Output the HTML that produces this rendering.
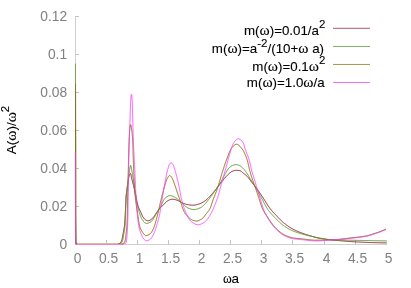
<!DOCTYPE html>
<html><head><meta charset="utf-8"><title>plot</title>
<style>html,body{margin:0;padding:0;background:#fff;overflow:hidden}body{width:411px;height:288px;position:relative;font-family:"Liberation Sans",sans-serif}</style>
</head><body>
<svg width="411" height="288" viewBox="0 0 411 288" style="position:absolute;left:0;top:0;will-change:transform">
<rect width="411" height="288" fill="#fff"/>
<g stroke-width="1" fill="none">
<path stroke="#d0d0d0" d="M75.5 16 V245 M75 244.5 H387"/>
<path stroke="#c4c4c4" d="M75.5 245 v-5"/>
<path stroke="#c4c4c4" d="M106.5 245 v-5"/>
<path stroke="#c4c4c4" d="M137.5 245 v-5"/>
<path stroke="#c4c4c4" d="M168.5 245 v-5"/>
<path stroke="#c4c4c4" d="M199.5 245 v-5"/>
<path stroke="#c4c4c4" d="M230.5 245 v-5"/>
<path stroke="#c4c4c4" d="M261.5 245 v-5"/>
<path stroke="#c4c4c4" d="M292.5 245 v-5"/>
<path stroke="#c4c4c4" d="M324.5 245 v-5"/>
<path stroke="#c4c4c4" d="M355.5 245 v-5"/>
<path stroke="#c4c4c4" d="M386.5 245 v-5"/>
<path stroke="#c4c4c4" d="M75 244.5 h4"/>
<path stroke="#c4c4c4" d="M75 206.5 h4"/>
<path stroke="#c4c4c4" d="M75 168.5 h4"/>
<path stroke="#c4c4c4" d="M75 130.5 h4"/>
<path stroke="#c4c4c4" d="M75 92.5 h4"/>
<path stroke="#c4c4c4" d="M75 54.5 h4"/>
<path stroke="#c4c4c4" d="M75 16.5 h4"/>
</g>
<g fill="#808080" font-family="Liberation Sans, sans-serif" font-size="13.8px">
<text x="77.5" y="262.5" text-anchor="middle">0</text>
<text x="108.5" y="262.5" text-anchor="middle">0.5</text>
<text x="139.5" y="262.5" text-anchor="middle">1</text>
<text x="170.5" y="262.5" text-anchor="middle">1.5</text>
<text x="201.5" y="262.5" text-anchor="middle">2</text>
<text x="232.5" y="262.5" text-anchor="middle">2.5</text>
<text x="263.5" y="262.5" text-anchor="middle">3</text>
<text x="294.5" y="262.5" text-anchor="middle">3.5</text>
<text x="326.5" y="262.5" text-anchor="middle">4</text>
<text x="357.5" y="262.5" text-anchor="middle">4.5</text>
<text x="388.5" y="262.5" text-anchor="middle">5</text>
<text x="67.1" y="249.2" text-anchor="end">0</text>
<text x="67.1" y="211.2" text-anchor="end">0.02</text>
<text x="67.1" y="173.2" text-anchor="end">0.04</text>
<text x="67.1" y="135.2" text-anchor="end">0.06</text>
<text x="67.1" y="97.2" text-anchor="end">0.08</text>
<text x="67.1" y="59.2" text-anchor="end">0.1</text>
<text x="67.1" y="21.2" text-anchor="end">0.12</text>
</g>
<g fill="none" stroke-width="1" stroke-linejoin="round">
<path stroke="#94202e" stroke-opacity="1" d="M75.50 92.00 L75.50 92.67 L75.50 93.33 L75.50 94.00 L75.50 94.66 L75.50 95.33 L75.50 96.00 L75.50 96.66 L75.50 97.33 L75.50 98.00 L75.50 98.66 L75.50 99.33 L75.50 99.99 L75.50 100.66 L75.50 101.33 L75.50 101.99 L75.50 102.66 L75.50 103.33 L75.50 103.99 L75.50 104.66 L75.50 105.32 L75.50 105.99 L75.50 106.66 L75.50 107.32 L75.50 107.99 L75.50 108.66 L75.50 109.32 L75.50 109.99 L75.50 110.65 L75.50 111.32 L75.50 111.99 L75.50 112.65 L75.50 113.32 L75.50 113.98 L75.50 114.65 L75.50 115.32 L75.50 115.98 L75.50 116.65 L75.50 117.32 L75.50 117.98 L75.50 118.65 L75.50 119.31 L75.50 119.98 L75.50 120.65 L75.50 121.31 L75.50 121.98 L75.50 122.65 L75.50 123.31 L75.50 123.98 L75.50 124.64 L75.50 125.31 L75.50 125.98 L75.50 126.64 L75.50 127.31 L75.50 127.98 L75.50 128.64 L75.50 129.31 L75.50 129.97 L75.50 130.64 L75.50 131.31 L75.50 131.97 L75.50 132.64 L75.50 133.30 L75.50 133.97 L75.50 134.64 L75.50 135.30 L75.50 135.97 L75.50 136.64 L75.50 137.30 L75.50 137.97 L75.50 138.63 L75.50 139.30 L75.50 139.97 L75.50 140.63 L75.50 141.30 L75.50 141.97 L75.50 142.63 L75.50 143.30 L75.50 143.96 L75.50 144.63 L75.50 145.30 L75.50 145.96 L75.50 146.63 L75.50 147.29 L75.50 147.96 L75.50 148.63 L75.50 149.29 L75.50 149.96 L75.50 150.63 L75.50 151.29 L75.50 151.96 L75.50 152.62 L75.50 153.29 L75.50 153.96 L75.50 154.62 L75.50 155.29 L75.50 155.96 L75.50 156.62 L75.50 157.29 L75.50 157.95 L75.50 158.62 L75.50 159.29 L75.50 159.95 L75.50 160.62 L75.50 161.28 L75.50 161.95 L75.50 162.62 L75.50 163.28 L75.50 163.95 L75.50 164.62 L75.50 165.28 L75.50 165.95 L75.50 166.61 L75.50 167.28 L75.50 167.95 L75.50 168.61 L75.50 169.28 L75.50 169.95 L75.50 170.61 L75.50 171.28 L75.50 171.94 L75.50 172.61 L75.50 173.28 L75.50 173.94 L75.50 174.61 L75.50 175.27 L75.50 175.94 L75.50 176.61 L75.50 177.27 L75.50 177.94 L75.50 178.61 L75.50 179.27 L75.50 179.94 L75.50 180.60 L75.50 181.27 L75.50 181.94 L75.50 182.60 L75.50 183.27 L75.50 183.94 L75.50 184.60 L75.50 185.27 L75.50 185.93 L75.50 186.60 L75.50 187.27 L75.50 187.93 L75.50 188.60 L75.50 189.26 L75.50 189.93 L75.50 190.60 L75.50 191.26 L75.50 191.93 L75.50 192.60 L75.50 193.26 L75.50 193.93 L75.50 194.59 L75.50 195.26 L75.50 195.93 L75.50 196.59 L75.50 197.26 L75.50 197.92 L75.50 198.59 L75.50 199.26 L75.50 199.92 L75.50 200.00 L75.50 200.59 L75.50 201.26 L75.50 201.94 L75.50 202.61 L75.50 203.29 L75.50 203.98 L75.50 204.66 L75.50 205.35 L75.50 206.04 L75.50 206.73 L75.50 207.42 L75.50 208.12 L75.51 208.81 L75.51 209.51 L75.51 210.21 L75.51 210.91 L75.51 211.61 L75.51 212.32 L75.51 213.02 L75.52 213.72 L75.52 214.43 L75.52 215.13 L75.52 215.83 L75.53 216.54 L75.53 217.24 L75.53 217.94 L75.54 218.64 L75.54 219.34 L75.54 220.04 L75.55 220.74 L75.55 221.44 L75.56 222.14 L75.56 222.83 L75.57 223.52 L75.57 224.21 L75.58 224.90 L75.59 225.59 L75.59 226.27 L75.60 226.95 L75.61 227.63 L75.61 228.30 L75.62 228.97 L75.63 229.64 L75.64 230.31 L75.65 230.97 L75.65 231.63 L75.66 232.28 L75.67 232.93 L75.68 233.57 L75.69 234.21 L75.71 234.85 L75.72 235.48 L75.73 236.11 L75.74 236.73 L75.75 237.35 L75.77 237.96 L75.78 238.56 L75.79 239.16 L75.81 239.76 L75.82 240.34 L75.84 240.93 L75.86 241.50 L75.87 242.07 L75.89 242.63 L75.90 243.00 L75.94 243.20 L76.33 243.86 L76.89 244.28 L77.00 244.30 L77.39 244.30 L77.91 244.30 L78.44 244.30 L79.00 244.30 L79.57 244.30 L80.15 244.30 L80.76 244.30 L81.37 244.30 L82.00 244.30 L82.64 244.30 L83.30 244.30 L83.96 244.30 L84.63 244.30 L85.32 244.30 L86.01 244.30 L86.70 244.30 L87.41 244.30 L88.12 244.30 L88.83 244.30 L89.55 244.30 L90.27 244.30 L90.99 244.30 L91.72 244.30 L92.44 244.30 L93.17 244.30 L93.89 244.30 L94.61 244.30 L95.32 244.30 L96.03 244.30 L96.74 244.30 L97.44 244.30 L98.14 244.30 L98.82 244.30 L99.50 244.30 L100.00 244.30 L100.17 244.30 L100.84 244.30 L101.51 244.30 L102.18 244.30 L102.85 244.30 L103.53 244.30 L104.20 244.30 L104.88 244.30 L105.55 244.30 L106.23 244.30 L106.90 244.30 L107.58 244.30 L108.25 244.30 L108.93 244.30 L109.60 244.30 L110.27 244.30 L110.94 244.30 L111.61 244.30 L112.28 244.30 L112.94 244.30 L113.60 244.30 L114.26 244.30 L114.91 244.30 L115.56 244.30 L116.21 244.30 L116.85 244.30 L117.49 244.30 L117.50 244.30 L118.14 244.18 L118.78 243.90 L119.30 243.60 L119.35 243.57 L119.86 243.19 L120.37 242.71 L120.82 242.16 L121.21 241.59 L121.49 241.01 L121.50 241.00 L121.70 240.43 L121.89 239.83 L122.05 239.19 L122.19 238.54 L122.31 237.87 L122.43 237.20 L122.55 236.52 L122.66 235.84 L122.77 235.16 L122.90 234.50 L122.90 234.50 L123.03 233.85 L123.16 233.20 L123.28 232.54 L123.41 231.89 L123.53 231.23 L123.65 230.58 L123.77 229.92 L123.88 229.27 L124.00 228.61 L124.00 228.60 L124.12 227.95 L124.24 227.30 L124.36 226.64 L124.47 225.98 L124.57 225.32 L124.60 225.00 L124.63 224.66 L124.69 224.00 L124.74 223.34 L124.79 222.68 L124.83 222.01 L124.87 221.35 L124.91 220.68 L124.95 220.02 L124.98 219.35 L125.01 218.68 L125.05 218.02 L125.08 217.35 L125.11 216.68 L125.15 216.02 L125.18 215.35 L125.20 215.00 L125.22 214.69 L125.25 214.02 L125.29 213.36 L125.32 212.69 L125.35 212.03 L125.39 211.36 L125.42 210.69 L125.45 210.03 L125.48 209.36 L125.51 208.69 L125.54 208.03 L125.57 207.36 L125.59 206.70 L125.62 206.03 L125.65 205.36 L125.68 204.70 L125.72 204.03 L125.75 203.37 L125.78 202.70 L125.81 202.04 L125.85 201.37 L125.89 200.71 L125.93 200.04 L125.97 199.38 L126.01 198.71 L126.05 198.05 L126.10 197.39 L126.14 196.72 L126.20 196.06 L126.20 196.00 L126.25 195.40 L126.31 194.74 L126.38 194.07 L126.45 193.41 L126.53 192.75 L126.61 192.09 L126.69 191.43 L126.78 190.77 L126.88 190.11 L126.97 189.45 L127.07 188.79 L127.17 188.13 L127.28 187.47 L127.38 186.81 L127.49 186.15 L127.59 185.49 L127.70 184.83 L127.81 184.18 L127.92 183.52 L128.00 183.00 L128.02 182.86 L128.12 182.20 L128.22 181.53 L128.31 180.85 L128.40 180.17 L128.50 179.49 L128.59 178.81 L128.70 178.14 L128.82 177.47 L128.95 176.82 L129.09 176.18 L129.26 175.56 L129.44 174.95 L129.60 174.50 L129.66 174.36 L130.09 173.67 L130.40 173.40 L130.45 173.41 L130.66 173.65 L130.84 174.17 L131.00 174.90 L131.14 175.73 L131.28 176.58 L131.42 177.37 L131.50 177.70 L131.59 178.04 L131.75 178.68 L131.92 179.33 L132.09 179.97 L132.26 180.62 L132.42 181.26 L132.59 181.91 L132.76 182.55 L132.92 183.20 L133.09 183.84 L133.25 184.49 L133.41 185.14 L133.50 185.50 L133.57 185.78 L133.73 186.43 L133.88 187.08 L134.04 187.73 L134.19 188.37 L134.34 189.02 L134.49 189.67 L134.64 190.32 L134.79 190.97 L134.94 191.62 L135.09 192.27 L135.24 192.92 L135.38 193.57 L135.53 194.22 L135.67 194.87 L135.70 195.00 L135.81 195.52 L135.95 196.17 L136.08 196.83 L136.20 197.49 L136.33 198.14 L136.45 198.80 L136.57 199.46 L136.70 200.12 L136.82 200.78 L136.95 201.43 L137.09 202.08 L137.23 202.73 L137.38 203.38 L137.54 204.02 L137.70 204.66 L137.80 205.00 L137.88 205.29 L138.08 205.92 L138.30 206.55 L138.53 207.17 L138.77 207.79 L139.03 208.41 L139.29 209.03 L139.56 209.64 L139.84 210.25 L140.12 210.86 L140.41 211.47 L140.69 212.07 L140.80 212.30 L140.97 212.67 L141.25 213.30 L141.53 213.94 L141.81 214.59 L142.09 215.24 L142.39 215.88 L142.70 216.50 L143.02 217.09 L143.36 217.65 L143.73 218.16 L144.12 218.62 L144.40 218.90 L144.55 219.03 L145.05 219.44 L145.63 219.85 L146.26 220.23 L146.90 220.53 L147.54 220.73 L148.10 220.80 L148.15 220.80 L148.75 220.71 L149.36 220.50 L149.98 220.19 L150.59 219.81 L151.18 219.39 L151.74 218.95 L152.25 218.52 L152.40 218.40 L152.72 218.11 L153.16 217.66 L153.57 217.16 L153.97 216.63 L154.35 216.08 L154.72 215.51 L155.08 214.93 L155.44 214.34 L155.81 213.75 L156.18 213.18 L156.56 212.62 L156.80 212.30 L156.96 212.09 L157.36 211.55 L157.76 211.01 L158.15 210.47 L158.55 209.93 L158.96 209.40 L159.37 208.87 L159.79 208.35 L160.22 207.85 L160.66 207.36 L161.00 207.00 L161.12 206.88 L161.61 206.44 L162.13 206.01 L162.65 205.59 L163.10 205.20 L163.15 205.15 L163.63 204.68 L164.10 204.18 L164.55 203.66 L165.01 203.14 L165.46 202.63 L165.92 202.14 L166.40 201.68 L166.90 201.28 L167.43 200.94 L167.50 200.90 L167.99 200.64 L168.58 200.34 L169.20 200.04 L169.84 199.77 L170.49 199.54 L171.15 199.35 L171.81 199.24 L172.40 199.20 L172.45 199.20 L173.10 199.24 L173.76 199.33 L174.42 199.46 L175.08 199.62 L175.73 199.81 L176.38 200.01 L177.00 200.20 L177.01 200.20 L177.62 200.43 L178.22 200.71 L178.81 201.03 L179.39 201.37 L179.97 201.71 L180.56 202.04 L181.15 202.35 L181.50 202.50 L181.76 202.61 L182.38 202.87 L183.00 203.13 L183.62 203.38 L184.25 203.63 L184.88 203.87 L185.51 204.08 L186.15 204.27 L186.79 204.44 L187.43 204.57 L187.60 204.60 L188.08 204.68 L188.74 204.78 L189.40 204.88 L190.07 204.97 L190.73 205.05 L191.40 205.12 L192.07 205.17 L192.73 205.19 L193.20 205.20 L193.39 205.20 L194.05 205.16 L194.71 205.08 L195.38 204.97 L196.04 204.83 L196.70 204.67 L197.35 204.49 L197.99 204.30 L198.62 204.11 L199.00 204.00 L199.25 203.92 L199.87 203.70 L200.49 203.46 L201.10 203.18 L201.71 202.88 L202.31 202.55 L202.90 202.22 L203.47 201.87 L204.04 201.51 L204.58 201.15 L204.80 201.00 L205.12 200.78 L205.64 200.39 L206.15 199.98 L206.65 199.56 L207.15 199.11 L207.64 198.66 L208.12 198.19 L208.59 197.71 L209.06 197.22 L209.52 196.73 L209.98 196.23 L210.44 195.73 L210.89 195.23 L211.34 194.73 L211.79 194.23 L212.00 194.00 L212.23 193.74 L212.67 193.25 L213.11 192.74 L213.54 192.24 L213.96 191.72 L214.38 191.21 L214.80 190.69 L215.21 190.16 L215.62 189.64 L216.03 189.11 L216.44 188.58 L216.84 188.05 L217.25 187.52 L217.66 187.00 L218.07 186.47 L218.48 185.94 L218.89 185.42 L219.31 184.90 L219.73 184.38 L219.80 184.30 L220.15 183.87 L220.57 183.34 L220.99 182.82 L221.40 182.29 L221.81 181.76 L222.23 181.22 L222.64 180.69 L223.05 180.16 L223.46 179.63 L223.88 179.10 L224.30 178.58 L224.73 178.06 L225.16 177.55 L225.59 177.05 L226.04 176.56 L226.49 176.07 L226.95 175.60 L227.41 175.14 L227.89 174.70 L228.00 174.60 L228.38 174.26 L228.88 173.80 L229.39 173.34 L229.92 172.88 L230.45 172.45 L231.00 172.04 L231.56 171.67 L232.13 171.35 L232.72 171.10 L233.00 171.00 L233.32 170.90 L233.95 170.72 L234.61 170.56 L235.28 170.42 L235.95 170.33 L236.60 170.30 L236.61 170.30 L237.28 170.32 L237.97 170.37 L238.65 170.46 L239.31 170.56 L239.93 170.68 L240.00 170.70 L240.51 170.88 L241.06 171.22 L241.60 171.65 L242.12 172.12 L242.63 172.59 L243.00 172.90 L243.16 173.02 L243.68 173.43 L244.22 173.84 L244.74 174.26 L245.27 174.68 L245.79 175.10 L246.29 175.54 L246.78 175.98 L247.25 176.44 L247.40 176.60 L247.70 176.92 L248.13 177.42 L248.55 177.93 L248.95 178.46 L249.35 178.99 L249.74 179.54 L250.12 180.09 L250.51 180.64 L250.90 181.19 L251.29 181.73 L251.69 182.26 L251.80 182.40 L252.11 182.79 L252.52 183.31 L252.94 183.83 L253.36 184.34 L253.79 184.86 L254.21 185.37 L254.64 185.88 L255.06 186.40 L255.48 186.92 L255.89 187.44 L256.30 187.97 L256.70 188.50 L256.70 188.50 L257.09 189.03 L257.48 189.57 L257.87 190.11 L258.25 190.66 L258.63 191.20 L259.01 191.75 L259.39 192.30 L259.76 192.86 L260.13 193.41 L260.50 193.96 L260.87 194.52 L261.24 195.08 L261.60 195.63 L261.97 196.19 L262.34 196.75 L262.70 197.30 L263.07 197.86 L263.44 198.41 L263.50 198.50 L263.81 198.97 L264.17 199.53 L264.54 200.09 L264.89 200.65 L265.25 201.22 L265.60 201.79 L265.95 202.36 L266.31 202.92 L266.66 203.49 L267.02 204.06 L267.37 204.62 L267.73 205.18 L268.10 205.74 L268.46 206.30 L268.84 206.85 L269.22 207.39 L269.60 207.93 L269.99 208.47 L270.39 208.99 L270.40 209.00 L270.80 209.51 L271.22 210.02 L271.65 210.53 L272.09 211.03 L272.53 211.53 L272.98 212.03 L273.44 212.52 L273.89 213.01 L274.35 213.49 L274.81 213.98 L275.27 214.46 L275.60 214.80 L275.73 214.94 L276.19 215.42 L276.65 215.91 L277.11 216.40 L277.57 216.88 L278.03 217.37 L278.49 217.85 L278.96 218.34 L279.43 218.82 L279.89 219.29 L280.37 219.77 L280.84 220.23 L281.32 220.70 L281.81 221.15 L282.30 221.60 L282.79 222.04 L283.29 222.48 L283.80 222.90 L284.10 223.15 L284.31 223.32 L284.83 223.73 L285.35 224.13 L285.88 224.54 L286.42 224.94 L286.96 225.33 L287.51 225.72 L288.06 226.10 L288.61 226.47 L289.17 226.84 L289.74 227.20 L290.31 227.56 L290.88 227.91 L291.45 228.25 L292.02 228.58 L292.60 228.90 L292.60 228.90 L293.18 229.22 L293.77 229.52 L294.36 229.83 L294.96 230.13 L295.56 230.42 L296.16 230.70 L296.77 230.99 L297.38 231.26 L297.99 231.53 L298.61 231.79 L299.22 232.05 L299.84 232.30 L300.46 232.55 L301.08 232.79 L301.10 232.80 L301.70 233.03 L302.32 233.26 L302.95 233.48 L303.58 233.70 L304.21 233.91 L304.84 234.12 L305.47 234.33 L306.11 234.53 L306.75 234.73 L307.39 234.93 L308.02 235.13 L308.66 235.32 L309.30 235.51 L309.60 235.60 L309.94 235.70 L310.58 235.89 L311.21 236.09 L311.85 236.28 L312.49 236.48 L313.13 236.67 L313.77 236.86 L314.42 237.05 L315.06 237.24 L315.70 237.42 L316.35 237.59 L316.99 237.75 L317.64 237.91 L318.29 238.06 L318.93 238.20 L319.58 238.33 L320.00 238.40 L320.24 238.44 L320.89 238.55 L321.54 238.65 L322.20 238.75 L322.86 238.85 L323.52 238.94 L324.18 239.03 L324.84 239.12 L325.50 239.20 L326.16 239.28 L326.83 239.36 L327.49 239.44 L328.15 239.51 L328.82 239.58 L329.48 239.65 L330.15 239.72 L330.81 239.79 L331.47 239.86 L332.14 239.93 L332.80 240.00 L332.80 240.00 L333.46 240.07 L334.12 240.14 L334.79 240.20 L335.45 240.27 L336.11 240.34 L336.78 240.40 L337.44 240.46 L338.10 240.53 L338.77 240.59 L339.43 240.65 L340.09 240.71 L340.76 240.77 L341.42 240.83 L342.08 240.89 L342.75 240.95 L343.41 241.00 L344.08 241.06 L344.74 241.11 L345.40 241.17 L346.07 241.22 L346.73 241.27 L347.40 241.32 L348.06 241.37 L348.73 241.41 L349.39 241.46 L350.00 241.50 L350.06 241.50 L350.72 241.55 L351.38 241.59 L352.05 241.63 L352.71 241.67 L353.38 241.71 L354.04 241.75 L354.71 241.79 L355.37 241.83 L356.04 241.87 L356.70 241.91 L357.37 241.95 L358.04 241.98 L358.70 242.02 L359.37 242.05 L360.03 242.08 L360.70 242.12 L361.36 242.15 L362.03 242.18 L362.69 242.21 L363.36 242.23 L364.03 242.26 L364.69 242.29 L365.00 242.30 L365.36 242.31 L366.02 242.34 L366.69 242.36 L367.35 242.39 L368.02 242.41 L368.68 242.44 L369.35 242.46 L370.02 242.48 L370.68 242.51 L371.35 242.53 L372.01 242.55 L372.68 242.57 L373.34 242.60 L374.01 242.62 L374.68 242.64 L375.34 242.66 L376.01 242.68 L376.67 242.70 L377.34 242.72 L378.01 242.73 L378.67 242.75 L379.34 242.77 L380.00 242.78 L380.67 242.80 L381.34 242.81 L382.00 242.83 L382.67 242.84 L383.33 242.86 L384.00 242.87 L384.67 242.88 L385.33 242.89 L386.00 242.90"/>
<path stroke="#54982c" stroke-opacity="0.95" d="M75.50 63.60 L75.50 64.27 L75.50 64.93 L75.50 65.60 L75.50 66.27 L75.50 66.93 L75.50 67.60 L75.50 68.26 L75.50 68.93 L75.50 69.60 L75.50 70.26 L75.50 70.93 L75.50 71.60 L75.50 72.26 L75.50 72.93 L75.50 73.59 L75.50 74.26 L75.50 74.93 L75.50 75.59 L75.50 76.26 L75.50 76.93 L75.50 77.59 L75.50 78.26 L75.50 78.92 L75.50 79.59 L75.50 80.26 L75.50 80.92 L75.50 81.59 L75.50 82.26 L75.50 82.92 L75.50 83.59 L75.50 84.25 L75.50 84.92 L75.50 85.59 L75.50 86.25 L75.50 86.92 L75.50 87.59 L75.50 88.25 L75.50 88.92 L75.50 89.58 L75.50 90.25 L75.50 90.92 L75.50 91.58 L75.50 92.25 L75.50 92.92 L75.50 93.58 L75.50 94.25 L75.50 94.91 L75.50 95.58 L75.50 96.25 L75.50 96.91 L75.50 97.58 L75.50 98.25 L75.50 98.91 L75.50 99.58 L75.50 100.25 L75.50 100.91 L75.50 101.58 L75.50 102.24 L75.50 102.91 L75.50 103.58 L75.50 104.24 L75.50 104.91 L75.50 105.58 L75.50 106.24 L75.50 106.91 L75.50 107.57 L75.50 108.24 L75.50 108.91 L75.50 109.57 L75.50 110.24 L75.50 110.91 L75.50 111.57 L75.50 112.24 L75.50 112.90 L75.50 113.57 L75.50 114.24 L75.50 114.90 L75.50 115.57 L75.50 116.24 L75.50 116.90 L75.50 117.57 L75.50 118.23 L75.50 118.90 L75.50 119.57 L75.50 120.23 L75.50 120.90 L75.50 121.57 L75.50 122.23 L75.50 122.90 L75.50 123.56 L75.50 124.23 L75.50 124.90 L75.50 125.56 L75.50 126.23 L75.50 126.90 L75.50 127.56 L75.50 128.23 L75.50 128.89 L75.50 129.56 L75.50 130.23 L75.50 130.89 L75.50 131.56 L75.50 132.23 L75.50 132.89 L75.50 133.56 L75.50 134.22 L75.50 134.89 L75.50 135.56 L75.50 136.22 L75.50 136.89 L75.50 137.56 L75.50 138.22 L75.50 138.89 L75.50 139.56 L75.50 140.22 L75.50 140.89 L75.50 141.55 L75.50 142.22 L75.50 142.89 L75.50 143.55 L75.50 144.22 L75.50 144.89 L75.50 145.55 L75.50 146.22 L75.50 146.88 L75.50 147.55 L75.50 148.22 L75.50 148.88 L75.50 149.55 L75.50 150.00 L75.50 150.22 L75.50 150.88 L75.50 151.55 L75.50 152.22 L75.50 152.90 L75.50 153.57 L75.50 154.24 L75.50 154.92 L75.50 155.60 L75.50 156.28 L75.50 156.96 L75.50 157.64 L75.50 158.32 L75.50 159.01 L75.50 159.69 L75.50 160.38 L75.50 161.07 L75.50 161.76 L75.50 162.44 L75.50 163.14 L75.50 163.83 L75.50 164.52 L75.50 165.21 L75.50 165.91 L75.50 166.60 L75.50 167.30 L75.50 167.99 L75.50 168.69 L75.50 169.39 L75.50 170.09 L75.51 170.79 L75.51 171.49 L75.51 172.19 L75.51 172.89 L75.51 173.59 L75.51 174.29 L75.51 174.99 L75.51 175.70 L75.51 176.40 L75.51 177.10 L75.51 177.80 L75.51 178.51 L75.51 179.21 L75.51 179.92 L75.52 180.62 L75.52 181.32 L75.52 182.03 L75.52 182.73 L75.52 183.43 L75.52 184.14 L75.52 184.84 L75.52 185.55 L75.52 186.25 L75.53 186.95 L75.53 187.66 L75.53 188.36 L75.53 189.06 L75.53 189.76 L75.53 190.47 L75.53 191.17 L75.54 191.87 L75.54 192.57 L75.54 193.27 L75.54 193.97 L75.54 194.67 L75.55 195.36 L75.55 196.06 L75.55 196.76 L75.55 197.45 L75.55 198.15 L75.56 198.84 L75.56 199.54 L75.56 200.23 L75.56 200.92 L75.57 201.61 L75.57 202.30 L75.57 202.99 L75.57 203.68 L75.58 204.37 L75.58 205.05 L75.58 205.74 L75.58 206.42 L75.59 207.10 L75.59 207.79 L75.59 208.47 L75.60 209.14 L75.60 209.82 L75.60 210.50 L75.61 211.17 L75.61 211.84 L75.61 212.52 L75.62 213.19 L75.62 213.85 L75.62 214.52 L75.63 215.18 L75.63 215.85 L75.64 216.51 L75.64 217.17 L75.65 217.83 L75.65 218.48 L75.65 219.14 L75.66 219.79 L75.66 220.44 L75.67 221.09 L75.67 221.74 L75.68 222.38 L75.68 223.03 L75.69 223.67 L75.69 224.30 L75.70 224.94 L75.70 225.57 L75.71 226.21 L75.71 226.84 L75.72 227.46 L75.72 228.09 L75.73 228.71 L75.74 229.33 L75.74 229.95 L75.75 230.56 L75.75 231.18 L75.76 231.79 L75.77 232.40 L75.77 233.00 L75.78 233.60 L75.79 234.20 L75.79 234.80 L75.80 235.39 L75.81 235.99 L75.81 236.58 L75.82 237.16 L75.83 237.74 L75.84 238.32 L75.84 238.90 L75.85 239.48 L75.86 240.05 L75.87 240.61 L75.87 241.18 L75.88 241.74 L75.89 242.30 L75.90 242.86 L75.90 243.00 L76.05 243.47 L76.55 244.08 L77.00 244.30 L77.09 244.30 L77.60 244.30 L78.12 244.30 L78.67 244.30 L79.23 244.30 L79.80 244.30 L80.40 244.30 L81.00 244.30 L81.62 244.30 L82.26 244.30 L82.91 244.30 L83.56 244.30 L84.23 244.30 L84.91 244.30 L85.59 244.30 L86.29 244.30 L86.99 244.30 L87.70 244.30 L88.41 244.30 L89.12 244.30 L89.84 244.30 L90.56 244.30 L91.29 244.30 L92.01 244.30 L92.74 244.30 L93.46 244.30 L94.18 244.30 L94.90 244.30 L95.61 244.30 L96.32 244.30 L97.03 244.30 L97.73 244.30 L98.42 244.30 L99.10 244.30 L99.77 244.30 L100.00 244.30 L100.44 244.30 L101.11 244.30 L101.78 244.30 L102.45 244.30 L103.13 244.30 L103.80 244.30 L104.48 244.30 L105.15 244.30 L105.83 244.30 L106.51 244.30 L107.18 244.30 L107.86 244.30 L108.53 244.30 L109.21 244.30 L109.88 244.30 L110.56 244.30 L111.23 244.30 L111.89 244.30 L112.56 244.30 L113.23 244.30 L113.89 244.30 L114.55 244.30 L115.20 244.30 L115.86 244.30 L116.51 244.30 L117.15 244.30 L117.80 244.30 L118.43 244.30 L118.50 244.30 L119.08 244.21 L119.72 243.95 L120.31 243.61 L120.50 243.50 L120.87 243.26 L121.41 242.81 L121.89 242.30 L122.20 241.80 L122.21 241.77 L122.43 241.22 L122.61 240.62 L122.77 240.00 L122.91 239.35 L123.04 238.69 L123.15 238.00 L123.26 237.31 L123.36 236.62 L123.46 235.93 L123.57 235.25 L123.68 234.59 L123.70 234.50 L123.81 233.93 L123.93 233.28 L124.05 232.62 L124.17 231.96 L124.29 231.31 L124.41 230.65 L124.51 229.99 L124.62 229.34 L124.71 228.68 L124.80 228.02 L124.80 228.00 L124.88 227.36 L124.95 226.69 L125.02 226.03 L125.08 225.37 L125.10 225.00 L125.12 224.70 L125.16 224.04 L125.19 223.37 L125.22 222.71 L125.25 222.04 L125.28 221.38 L125.30 220.71 L125.33 220.04 L125.35 219.38 L125.37 218.71 L125.39 218.04 L125.42 217.38 L125.44 216.71 L125.46 216.05 L125.49 215.38 L125.50 215.00 L125.51 214.71 L125.54 214.05 L125.56 213.38 L125.58 212.72 L125.60 212.05 L125.62 211.38 L125.65 210.72 L125.67 210.05 L125.69 209.38 L125.71 208.72 L125.73 208.05 L125.74 207.38 L125.76 206.72 L125.78 206.05 L125.81 205.38 L125.83 204.72 L125.85 204.05 L125.87 203.39 L125.89 202.72 L125.92 202.05 L125.94 201.39 L125.97 200.72 L126.00 200.06 L126.03 199.39 L126.06 198.73 L126.09 198.06 L126.12 197.40 L126.16 196.73 L126.20 196.07 L126.20 196.00 L126.24 195.41 L126.29 194.74 L126.35 194.08 L126.41 193.42 L126.48 192.76 L126.56 192.09 L126.64 191.43 L126.72 190.77 L126.81 190.11 L126.90 189.45 L126.99 188.79 L127.08 188.13 L127.17 187.47 L127.26 186.80 L127.35 186.14 L127.44 185.48 L127.50 185.00 L127.52 184.82 L127.61 184.16 L127.69 183.50 L127.77 182.84 L127.86 182.18 L127.94 181.52 L128.03 180.86 L128.11 180.19 L128.20 179.53 L128.28 178.87 L128.37 178.21 L128.46 177.55 L128.55 176.89 L128.64 176.23 L128.73 175.57 L128.83 174.91 L128.92 174.25 L129.02 173.59 L129.12 172.93 L129.22 172.27 L129.33 171.62 L129.44 170.96 L129.55 170.30 L129.60 170.00 L129.66 169.63 L129.79 168.83 L129.92 167.97 L130.05 167.12 L130.19 166.34 L130.34 165.72 L130.48 165.31 L130.60 165.20 L130.63 165.21 L130.77 165.42 L130.93 165.91 L131.08 166.59 L131.24 167.40 L131.39 168.26 L131.54 169.10 L131.67 169.86 L131.70 170.00 L131.80 170.51 L131.92 171.17 L132.04 171.82 L132.16 172.48 L132.27 173.13 L132.39 173.79 L132.50 174.45 L132.60 175.11 L132.71 175.76 L132.81 176.42 L132.92 177.08 L133.02 177.74 L133.12 178.40 L133.21 179.06 L133.31 179.72 L133.41 180.38 L133.50 181.00 L133.51 181.04 L133.60 181.70 L133.69 182.36 L133.78 183.02 L133.87 183.68 L133.95 184.34 L134.04 185.00 L134.12 185.66 L134.21 186.32 L134.29 186.98 L134.38 187.64 L134.46 188.30 L134.55 188.96 L134.65 189.62 L134.70 190.00 L134.74 190.28 L134.84 190.94 L134.94 191.60 L135.04 192.26 L135.14 192.92 L135.25 193.58 L135.35 194.23 L135.46 194.89 L135.57 195.55 L135.67 196.21 L135.78 196.86 L135.80 197.00 L135.88 197.52 L135.98 198.18 L136.08 198.84 L136.18 199.50 L136.27 200.16 L136.37 200.83 L136.47 201.49 L136.58 202.14 L136.68 202.80 L136.80 203.46 L136.92 204.11 L137.05 204.76 L137.10 205.00 L137.19 205.41 L137.34 206.05 L137.51 206.70 L137.69 207.34 L137.87 207.98 L138.07 208.62 L138.27 209.26 L138.48 209.89 L138.69 210.52 L138.91 211.16 L139.12 211.79 L139.30 212.30 L139.34 212.42 L139.55 213.05 L139.76 213.70 L139.98 214.36 L140.19 215.01 L140.41 215.66 L140.64 216.31 L140.88 216.94 L141.14 217.56 L141.41 218.16 L141.69 218.74 L142.00 219.29 L142.20 219.60 L142.34 219.81 L142.72 220.37 L143.16 220.96 L143.64 221.55 L144.15 222.11 L144.69 222.61 L145.24 223.02 L145.80 223.33 L146.36 223.48 L146.60 223.50 L146.93 223.48 L147.54 223.37 L148.19 223.16 L148.85 222.89 L149.50 222.56 L150.13 222.21 L150.71 221.84 L151.20 221.50 L151.22 221.48 L151.67 221.10 L152.10 220.65 L152.50 220.16 L152.88 219.62 L153.25 219.05 L153.60 218.45 L153.94 217.84 L154.28 217.22 L154.62 216.60 L154.96 215.99 L155.31 215.40 L155.50 215.10 L155.67 214.84 L156.03 214.27 L156.38 213.71 L156.74 213.15 L157.09 212.58 L157.44 212.01 L157.78 211.44 L158.13 210.87 L158.47 210.30 L158.81 209.73 L159.00 209.40 L159.14 209.15 L159.48 208.57 L159.80 207.99 L160.13 207.41 L160.45 206.83 L160.77 206.25 L160.80 206.20 L161.09 205.65 L161.39 205.03 L161.68 204.40 L161.97 203.76 L162.25 203.11 L162.53 202.46 L162.81 201.82 L163.10 201.20 L163.41 200.60 L163.73 200.02 L164.06 199.47 L164.42 198.96 L164.81 198.50 L165.10 198.20 L165.22 198.08 L165.70 197.66 L166.24 197.23 L166.82 196.81 L167.43 196.42 L168.07 196.08 L168.71 195.82 L169.34 195.65 L169.90 195.60 L169.96 195.60 L170.58 195.65 L171.21 195.78 L171.85 195.97 L172.50 196.20 L173.14 196.48 L173.78 196.78 L174.40 197.09 L175.00 197.40 L175.40 197.60 L175.58 197.69 L176.14 198.02 L176.68 198.37 L177.21 198.76 L177.74 199.17 L178.25 199.60 L178.76 200.05 L179.27 200.50 L179.77 200.96 L180.27 201.42 L180.77 201.87 L181.28 202.31 L181.50 202.50 L181.79 202.75 L182.29 203.21 L182.78 203.69 L183.26 204.18 L183.74 204.68 L184.23 205.17 L184.71 205.66 L185.20 206.13 L185.70 206.57 L186.22 206.97 L186.74 207.34 L187.29 207.65 L187.60 207.80 L187.85 207.91 L188.44 208.17 L189.06 208.42 L189.70 208.67 L190.35 208.90 L191.01 209.11 L191.67 209.29 L192.34 209.43 L193.00 209.54 L193.65 209.59 L194.00 209.60 L194.30 209.59 L194.95 209.54 L195.62 209.44 L196.28 209.29 L196.95 209.11 L197.61 208.90 L198.26 208.66 L198.90 208.41 L199.52 208.15 L200.10 207.88 L200.50 207.70 L200.66 207.62 L201.21 207.32 L201.73 206.98 L202.25 206.60 L202.76 206.19 L203.25 205.74 L203.74 205.27 L204.22 204.78 L204.69 204.27 L205.15 203.75 L205.60 203.22 L206.05 202.68 L206.50 202.15 L206.94 201.62 L207.37 201.10 L207.80 200.60 L207.81 200.59 L208.23 200.09 L208.65 199.58 L209.06 199.06 L209.47 198.53 L209.87 197.99 L210.26 197.46 L210.65 196.91 L211.04 196.37 L211.43 195.82 L211.81 195.27 L212.20 194.73 L212.58 194.18 L212.97 193.64 L213.00 193.60 L213.36 193.10 L213.76 192.56 L214.15 192.02 L214.54 191.48 L214.94 190.95 L215.33 190.41 L215.73 189.87 L216.12 189.33 L216.51 188.79 L216.90 188.24 L217.28 187.70 L217.66 187.15 L218.04 186.60 L218.41 186.05 L218.78 185.50 L219.14 184.94 L219.50 184.38 L219.80 183.90 L219.85 183.82 L220.19 183.25 L220.52 182.67 L220.85 182.09 L221.17 181.51 L221.48 180.92 L221.79 180.33 L222.10 179.73 L222.40 179.14 L222.70 178.54 L223.01 177.95 L223.31 177.35 L223.62 176.76 L223.93 176.17 L224.25 175.58 L224.57 175.00 L224.90 174.42 L225.24 173.85 L225.40 173.60 L225.59 173.29 L225.94 172.70 L226.28 172.09 L226.63 171.48 L226.98 170.87 L227.33 170.26 L227.70 169.67 L228.08 169.10 L228.47 168.56 L228.88 168.05 L229.30 167.60 L229.75 167.19 L230.00 167.00 L230.23 166.83 L230.76 166.48 L231.33 166.12 L231.93 165.77 L232.57 165.45 L233.22 165.16 L233.88 164.92 L234.53 164.74 L235.19 164.63 L235.70 164.60 L235.82 164.60 L236.47 164.66 L237.14 164.78 L237.80 164.96 L238.47 165.18 L239.11 165.42 L239.71 165.67 L240.00 165.80 L240.27 165.93 L240.81 166.26 L241.34 166.64 L241.85 167.08 L242.34 167.56 L242.82 168.06 L243.29 168.58 L243.74 169.10 L244.18 169.62 L244.50 170.00 L244.61 170.13 L245.02 170.63 L245.42 171.15 L245.82 171.68 L246.20 172.22 L246.57 172.77 L246.94 173.33 L247.30 173.90 L247.66 174.47 L248.01 175.04 L248.36 175.61 L248.70 176.19 L249.05 176.77 L249.40 177.34 L249.75 177.91 L250.10 178.48 L250.30 178.80 L250.46 179.05 L250.81 179.61 L251.16 180.17 L251.52 180.74 L251.87 181.30 L252.22 181.87 L252.57 182.44 L252.92 183.01 L253.26 183.58 L253.61 184.15 L253.96 184.72 L254.30 185.29 L254.64 185.86 L254.98 186.43 L255.32 187.00 L255.66 187.58 L256.00 188.15 L256.20 188.50 L256.33 188.73 L256.67 189.30 L257.00 189.88 L257.33 190.46 L257.66 191.04 L257.99 191.62 L258.31 192.20 L258.64 192.78 L258.96 193.36 L259.29 193.95 L259.61 194.53 L259.93 195.11 L260.25 195.69 L260.58 196.28 L260.90 196.86 L261.22 197.45 L261.54 198.03 L261.80 198.50 L261.86 198.61 L262.18 199.20 L262.49 199.79 L262.80 200.39 L263.11 200.98 L263.41 201.58 L263.71 202.18 L264.01 202.78 L264.31 203.38 L264.62 203.98 L264.92 204.57 L265.24 205.16 L265.55 205.75 L265.87 206.33 L266.20 206.91 L266.53 207.48 L266.88 208.04 L267.23 208.60 L267.50 209.00 L267.60 209.14 L267.97 209.68 L268.36 210.22 L268.75 210.75 L269.16 211.27 L269.57 211.79 L270.00 212.31 L270.42 212.82 L270.86 213.33 L271.30 213.84 L271.75 214.34 L272.20 214.84 L272.66 215.33 L273.11 215.82 L273.58 216.31 L274.04 216.80 L274.50 217.28 L274.97 217.75 L275.43 218.23 L275.60 218.40 L275.90 218.70 L276.36 219.17 L276.84 219.65 L277.31 220.12 L277.79 220.59 L278.27 221.06 L278.75 221.53 L279.24 221.99 L279.74 222.44 L280.23 222.89 L280.74 223.34 L281.24 223.78 L281.75 224.20 L282.27 224.62 L282.79 225.03 L283.31 225.43 L283.85 225.82 L284.10 226.00 L284.38 226.20 L284.93 226.57 L285.48 226.93 L286.04 227.30 L286.61 227.65 L287.18 228.00 L287.76 228.34 L288.34 228.68 L288.93 229.01 L289.52 229.33 L290.12 229.63 L290.72 229.93 L291.32 230.22 L291.92 230.50 L292.52 230.77 L292.60 230.80 L293.13 231.02 L293.74 231.27 L294.36 231.51 L294.99 231.74 L295.61 231.97 L296.25 232.19 L296.88 232.40 L297.52 232.61 L298.15 232.81 L298.79 233.01 L299.43 233.20 L300.07 233.40 L300.71 233.59 L301.10 233.70 L301.35 233.77 L301.99 233.96 L302.63 234.14 L303.27 234.32 L303.92 234.49 L304.56 234.66 L305.21 234.83 L305.85 234.99 L306.50 235.15 L307.15 235.31 L307.80 235.47 L308.44 235.63 L309.09 235.78 L309.60 235.90 L309.74 235.93 L310.39 236.08 L311.04 236.23 L311.69 236.38 L312.34 236.53 L312.99 236.68 L313.64 236.83 L314.29 236.97 L314.94 237.11 L315.59 237.25 L316.25 237.39 L316.90 237.52 L317.55 237.65 L318.21 237.78 L318.86 237.90 L319.52 238.02 L320.00 238.10 L320.17 238.13 L320.83 238.24 L321.48 238.36 L322.14 238.48 L322.80 238.60 L323.46 238.72 L324.12 238.83 L324.77 238.95 L325.43 239.06 L326.09 239.17 L326.75 239.28 L327.41 239.38 L328.07 239.47 L328.74 239.56 L329.40 239.64 L330.06 239.71 L330.72 239.77 L331.38 239.83 L332.05 239.87 L332.71 239.90 L332.80 239.90 L333.37 239.92 L334.03 239.94 L334.70 239.96 L335.36 239.97 L336.03 239.99 L336.69 240.00 L337.36 240.01 L338.02 240.03 L338.69 240.04 L339.36 240.05 L340.02 240.06 L340.69 240.07 L341.36 240.08 L342.02 240.09 L342.69 240.10 L343.36 240.10 L344.03 240.11 L344.69 240.12 L345.36 240.13 L346.03 240.14 L346.69 240.15 L347.36 240.16 L348.03 240.17 L348.70 240.18 L349.36 240.19 L350.00 240.20 L350.03 240.20 L350.69 240.21 L351.36 240.23 L352.03 240.24 L352.69 240.25 L353.36 240.26 L354.02 240.28 L354.69 240.29 L355.36 240.30 L356.02 240.32 L356.69 240.33 L357.36 240.35 L358.02 240.36 L358.69 240.37 L359.35 240.39 L360.02 240.40 L360.69 240.41 L361.35 240.43 L362.02 240.44 L362.68 240.45 L363.35 240.47 L364.02 240.48 L364.68 240.49 L365.00 240.50 L365.35 240.51 L366.02 240.52 L366.68 240.53 L367.35 240.55 L368.01 240.56 L368.68 240.57 L369.35 240.58 L370.01 240.60 L370.68 240.61 L371.34 240.62 L372.01 240.64 L372.68 240.65 L373.34 240.66 L374.01 240.67 L374.68 240.69 L375.34 240.70 L376.01 240.71 L376.67 240.73 L377.34 240.74 L378.01 240.75 L378.67 240.76 L379.34 240.78 L380.00 240.79 L380.67 240.80 L381.34 240.81 L382.00 240.83 L382.67 240.84 L383.34 240.85 L384.00 240.86 L384.67 240.88 L385.33 240.89 L386.00 240.90"/>
<path stroke="#8e6e12" stroke-opacity="1" d="M75.55 83.50 L75.55 84.17 L75.55 84.83 L75.55 85.50 L75.55 86.17 L75.56 86.83 L75.56 87.50 L75.56 88.16 L75.56 88.83 L75.56 89.50 L75.56 90.16 L75.56 90.83 L75.57 91.50 L75.57 92.16 L75.57 92.83 L75.57 93.50 L75.57 94.16 L75.57 94.83 L75.57 95.50 L75.58 96.16 L75.58 96.83 L75.58 97.49 L75.58 98.16 L75.58 98.83 L75.59 99.49 L75.59 100.16 L75.59 100.83 L75.59 101.49 L75.59 102.16 L75.59 102.83 L75.60 103.49 L75.60 104.16 L75.60 104.83 L75.60 105.49 L75.60 106.16 L75.61 106.82 L75.61 107.49 L75.61 108.16 L75.61 108.82 L75.61 109.49 L75.62 110.16 L75.62 110.82 L75.62 111.49 L75.62 112.16 L75.63 112.82 L75.63 113.49 L75.63 114.16 L75.63 114.82 L75.63 115.49 L75.64 116.15 L75.64 116.82 L75.64 117.49 L75.64 118.15 L75.65 118.82 L75.65 119.49 L75.65 120.00 L75.65 120.15 L75.65 120.82 L75.66 121.49 L75.66 122.15 L75.66 122.82 L75.66 123.49 L75.67 124.15 L75.67 124.82 L75.67 125.48 L75.68 126.15 L75.68 126.82 L75.68 127.48 L75.69 128.15 L75.69 128.82 L75.70 129.48 L75.70 130.15 L75.70 130.82 L75.71 131.48 L75.71 132.15 L75.72 132.81 L75.72 133.48 L75.72 134.15 L75.73 134.81 L75.73 135.48 L75.74 136.15 L75.74 136.81 L75.75 137.48 L75.75 138.15 L75.75 138.81 L75.76 139.48 L75.76 140.15 L75.77 140.81 L75.77 141.48 L75.78 142.14 L75.78 142.81 L75.78 143.48 L75.79 144.14 L75.79 144.81 L75.79 145.48 L75.80 146.14 L75.80 146.81 L75.81 147.48 L75.81 148.14 L75.81 148.81 L75.82 149.48 L75.82 150.14 L75.82 150.81 L75.83 151.47 L75.83 152.14 L75.83 152.81 L75.83 153.47 L75.84 154.14 L75.84 154.81 L75.84 155.47 L75.84 156.14 L75.84 156.81 L75.85 157.47 L75.85 158.14 L75.85 158.80 L75.85 159.47 L75.85 160.00 L75.85 160.14 L75.85 160.81 L75.85 161.48 L75.85 162.15 L75.85 162.82 L75.85 163.50 L75.85 164.18 L75.86 164.86 L75.86 165.54 L75.86 166.23 L75.86 166.91 L75.86 167.60 L75.86 168.29 L75.86 168.98 L75.86 169.67 L75.86 170.37 L75.86 171.06 L75.86 171.76 L75.86 172.46 L75.86 173.16 L75.86 173.86 L75.86 174.56 L75.86 175.26 L75.86 175.97 L75.86 176.67 L75.86 177.38 L75.86 178.09 L75.86 178.80 L75.86 179.50 L75.86 180.21 L75.86 180.92 L75.86 181.64 L75.86 182.35 L75.87 183.06 L75.87 183.77 L75.87 184.48 L75.87 185.20 L75.87 185.91 L75.87 186.62 L75.87 187.34 L75.87 188.05 L75.87 188.77 L75.87 189.48 L75.87 190.20 L75.87 190.91 L75.87 191.62 L75.87 192.34 L75.87 193.05 L75.87 193.76 L75.87 194.48 L75.87 195.19 L75.87 195.90 L75.87 196.61 L75.87 197.32 L75.87 198.03 L75.87 198.74 L75.87 199.45 L75.87 200.16 L75.87 200.86 L75.87 201.57 L75.87 202.28 L75.87 202.98 L75.87 203.68 L75.87 204.38 L75.87 205.08 L75.87 205.78 L75.87 206.48 L75.87 207.18 L75.87 207.87 L75.87 208.57 L75.87 209.26 L75.87 209.95 L75.87 210.64 L75.87 211.33 L75.87 212.01 L75.87 212.69 L75.87 213.38 L75.87 214.06 L75.87 214.73 L75.87 215.41 L75.87 216.08 L75.87 216.76 L75.87 217.42 L75.87 218.09 L75.87 218.76 L75.87 219.42 L75.87 220.08 L75.87 220.74 L75.87 221.39 L75.87 222.04 L75.87 222.69 L75.88 223.34 L75.88 223.99 L75.88 224.63 L75.88 225.27 L75.88 225.90 L75.88 226.53 L75.88 227.16 L75.88 227.79 L75.88 228.41 L75.88 229.04 L75.88 229.65 L75.88 230.27 L75.88 230.88 L75.88 231.48 L75.88 232.09 L75.88 232.69 L75.88 233.28 L75.88 233.88 L75.89 234.47 L75.89 235.05 L75.89 235.63 L75.89 236.21 L75.89 236.78 L75.89 237.35 L75.89 237.92 L75.89 238.48 L75.89 239.04 L75.89 239.59 L75.89 240.14 L75.90 240.69 L75.90 241.23 L75.90 241.76 L75.90 242.29 L75.90 242.82 L75.90 243.00 L76.04 243.39 L76.60 243.95 L77.00 244.10 L77.17 244.10 L77.71 244.10 L78.27 244.10 L78.83 244.10 L79.42 244.10 L80.01 244.10 L80.62 244.10 L81.24 244.10 L81.87 244.10 L82.52 244.10 L83.17 244.10 L83.83 244.10 L84.50 244.10 L85.17 244.10 L85.86 244.10 L86.55 244.10 L87.24 244.10 L87.94 244.10 L88.65 244.10 L89.35 244.10 L90.06 244.10 L90.77 244.10 L91.49 244.10 L92.20 244.10 L92.91 244.10 L93.63 244.10 L94.34 244.10 L95.04 244.10 L95.75 244.10 L96.45 244.10 L97.15 244.10 L97.84 244.10 L98.52 244.10 L99.20 244.10 L99.88 244.10 L100.00 244.10 L100.54 244.10 L101.21 244.10 L101.88 244.10 L102.55 244.10 L103.22 244.10 L103.89 244.10 L104.56 244.10 L105.23 244.10 L105.90 244.10 L106.57 244.10 L107.24 244.10 L107.91 244.10 L108.58 244.10 L109.26 244.10 L109.93 244.10 L110.60 244.10 L111.27 244.10 L111.94 244.10 L112.60 244.10 L113.27 244.10 L113.94 244.10 L114.60 244.10 L115.27 244.10 L115.93 244.10 L116.60 244.10 L117.26 244.10 L117.92 244.10 L118.58 244.10 L119.23 244.10 L119.89 244.10 L120.54 244.10 L121.00 244.10 L121.20 244.09 L121.85 243.94 L122.48 243.71 L122.50 243.70 L123.12 243.44 L123.75 243.09 L124.26 242.68 L124.40 242.50 L124.57 242.21 L124.83 241.64 L125.04 241.00 L125.22 240.31 L125.37 239.61 L125.49 238.93 L125.50 238.90 L125.60 238.28 L125.68 237.62 L125.76 236.96 L125.83 236.30 L125.89 235.64 L125.95 234.97 L126.01 234.30 L126.07 233.63 L126.13 232.97 L126.20 232.31 L126.20 232.30 L126.27 231.64 L126.36 230.98 L126.44 230.32 L126.53 229.66 L126.61 228.99 L126.70 228.33 L126.78 227.67 L126.85 227.01 L126.91 226.35 L126.96 225.68 L127.00 225.02 L127.00 225.00 L127.03 224.35 L127.06 223.69 L127.08 223.03 L127.11 222.36 L127.13 221.70 L127.15 221.03 L127.17 220.37 L127.20 219.70 L127.21 219.03 L127.23 218.37 L127.25 217.70 L127.27 217.04 L127.28 216.37 L127.30 215.70 L127.31 215.04 L127.33 214.37 L127.34 213.70 L127.36 213.04 L127.37 212.37 L127.38 211.70 L127.39 211.04 L127.40 210.37 L127.42 209.70 L127.43 209.04 L127.44 208.37 L127.45 207.70 L127.46 207.03 L127.47 206.37 L127.48 205.70 L127.50 205.03 L127.51 204.37 L127.52 203.70 L127.53 203.03 L127.55 202.37 L127.56 201.70 L127.58 201.03 L127.59 200.37 L127.60 200.00 L127.61 199.70 L127.62 199.04 L127.64 198.37 L127.65 197.70 L127.67 197.04 L127.68 196.37 L127.70 195.70 L127.71 195.04 L127.73 194.37 L127.75 193.71 L127.76 193.04 L127.78 192.37 L127.79 191.71 L127.81 191.04 L127.82 190.37 L127.83 189.71 L127.85 189.04 L127.86 188.38 L127.88 187.71 L127.89 187.04 L127.91 186.38 L127.92 185.71 L127.94 185.04 L127.95 184.38 L127.97 183.71 L127.98 183.05 L128.00 182.38 L128.01 181.71 L128.03 181.05 L128.05 180.38 L128.06 179.71 L128.08 179.05 L128.09 178.38 L128.11 177.72 L128.12 177.05 L128.14 176.38 L128.16 175.72 L128.17 175.05 L128.19 174.38 L128.21 173.72 L128.22 173.05 L128.24 172.39 L128.26 171.72 L128.27 171.05 L128.29 170.39 L128.30 170.00 L128.31 169.72 L128.32 169.05 L128.34 168.39 L128.36 167.72 L128.38 167.06 L128.39 166.39 L128.41 165.72 L128.43 165.06 L128.44 164.39 L128.46 163.72 L128.48 163.06 L128.49 162.39 L128.51 161.73 L128.53 161.06 L128.55 160.39 L128.56 159.73 L128.58 159.06 L128.60 158.39 L128.62 157.73 L128.63 157.06 L128.65 156.40 L128.67 155.73 L128.69 155.06 L128.71 154.40 L128.73 153.73 L128.75 153.06 L128.76 152.40 L128.78 151.73 L128.80 151.07 L128.82 150.40 L128.85 149.73 L128.87 149.07 L128.89 148.40 L128.91 147.74 L128.93 147.07 L128.96 146.40 L128.98 145.74 L129.00 145.07 L129.03 144.41 L129.05 143.74 L129.08 143.07 L129.10 142.41 L129.13 141.74 L129.16 141.08 L129.18 140.41 L129.20 140.00 L129.21 139.75 L129.24 139.08 L129.26 138.41 L129.29 137.74 L129.32 137.07 L129.34 136.40 L129.37 135.73 L129.40 135.06 L129.43 134.39 L129.46 133.72 L129.50 133.05 L129.54 132.38 L129.58 131.72 L129.62 131.05 L129.67 130.39 L129.72 129.73 L129.78 129.07 L129.84 128.41 L129.91 127.76 L129.99 127.11 L130.00 127.00 L130.11 126.37 L130.30 125.53 L130.52 124.85 L130.70 124.60 L130.71 124.60 L130.87 124.88 L131.03 125.51 L131.17 126.33 L131.30 127.18 L131.40 127.80 L131.42 127.91 L131.53 128.57 L131.63 129.23 L131.72 129.89 L131.81 130.55 L131.90 131.21 L131.98 131.87 L132.05 132.53 L132.10 133.00 L132.12 133.20 L132.19 133.86 L132.25 134.52 L132.32 135.19 L132.38 135.85 L132.43 136.52 L132.48 137.18 L132.53 137.85 L132.57 138.51 L132.60 139.00 L132.61 139.18 L132.64 139.84 L132.67 140.51 L132.70 141.17 L132.73 141.84 L132.76 142.50 L132.79 143.17 L132.81 143.83 L132.83 144.50 L132.86 145.16 L132.88 145.83 L132.90 146.50 L132.92 147.16 L132.94 147.83 L132.96 148.50 L132.98 149.16 L133.00 149.83 L133.02 150.49 L133.04 151.16 L133.05 151.83 L133.07 152.49 L133.09 153.16 L133.11 153.83 L133.13 154.49 L133.15 155.16 L133.16 155.83 L133.18 156.49 L133.20 157.16 L133.23 157.82 L133.25 158.49 L133.27 159.16 L133.29 159.82 L133.30 160.00 L133.32 160.49 L133.34 161.15 L133.37 161.82 L133.39 162.49 L133.42 163.15 L133.44 163.82 L133.47 164.48 L133.49 165.15 L133.52 165.82 L133.54 166.48 L133.57 167.15 L133.59 167.81 L133.62 168.48 L133.65 169.15 L133.67 169.81 L133.70 170.48 L133.73 171.14 L133.76 171.81 L133.79 172.48 L133.82 173.14 L133.84 173.81 L133.88 174.47 L133.90 175.00 L133.91 175.14 L133.94 175.80 L133.97 176.47 L134.00 177.14 L134.03 177.80 L134.06 178.47 L134.10 179.13 L134.13 179.80 L134.16 180.47 L134.19 181.13 L134.23 181.80 L134.26 182.46 L134.30 183.13 L134.33 183.80 L134.37 184.46 L134.41 185.13 L134.44 185.79 L134.48 186.46 L134.52 187.12 L134.56 187.79 L134.60 188.45 L134.65 189.12 L134.69 189.78 L134.74 190.45 L134.78 191.11 L134.83 191.78 L134.88 192.44 L134.93 193.10 L134.98 193.77 L135.00 194.00 L135.04 194.43 L135.09 195.09 L135.15 195.76 L135.22 196.42 L135.28 197.08 L135.35 197.74 L135.43 198.40 L135.50 199.07 L135.58 199.73 L135.66 200.39 L135.74 201.05 L135.83 201.71 L135.92 202.37 L136.01 203.03 L136.10 203.69 L136.19 204.36 L136.28 205.02 L136.38 205.68 L136.48 206.34 L136.57 207.00 L136.67 207.66 L136.77 208.32 L136.87 208.98 L136.97 209.64 L137.08 210.29 L137.18 210.95 L137.28 211.61 L137.38 212.27 L137.48 212.93 L137.58 213.59 L137.69 214.25 L137.79 214.91 L137.80 215.00 L137.88 215.57 L137.98 216.23 L138.08 216.89 L138.17 217.56 L138.26 218.23 L138.35 218.90 L138.45 219.57 L138.55 220.23 L138.65 220.90 L138.75 221.56 L138.86 222.22 L138.97 222.88 L139.10 223.53 L139.23 224.18 L139.36 224.83 L139.51 225.47 L139.67 226.10 L139.80 226.60 L139.83 226.72 L140.03 227.35 L140.26 227.97 L140.51 228.59 L140.79 229.21 L141.10 229.82 L141.42 230.43 L141.76 231.01 L142.12 231.58 L142.48 232.14 L142.80 232.60 L142.85 232.67 L143.25 233.25 L143.68 233.87 L144.14 234.49 L144.63 235.03 L145.14 235.45 L145.66 235.67 L145.90 235.70 L146.20 235.68 L146.81 235.55 L147.46 235.33 L148.13 235.03 L148.78 234.68 L149.39 234.31 L149.93 233.93 L150.10 233.80 L150.38 233.56 L150.81 233.12 L151.22 232.63 L151.61 232.09 L151.98 231.51 L152.33 230.90 L152.67 230.28 L152.98 229.64 L153.28 229.00 L153.55 228.38 L153.80 227.80 L153.81 227.77 L154.06 227.16 L154.29 226.55 L154.50 225.92 L154.71 225.29 L154.91 224.66 L155.10 224.01 L155.28 223.37 L155.46 222.72 L155.63 222.07 L155.80 221.42 L155.98 220.77 L156.15 220.12 L156.32 219.47 L156.40 219.20 L156.50 218.83 L156.68 218.19 L156.85 217.54 L157.02 216.90 L157.18 216.25 L157.35 215.61 L157.50 215.00 L157.51 214.96 L157.67 214.31 L157.83 213.67 L157.98 213.02 L158.14 212.37 L158.29 211.72 L158.44 211.07 L158.59 210.42 L158.74 209.77 L158.88 209.12 L159.03 208.47 L159.18 207.82 L159.32 207.17 L159.47 206.52 L159.62 205.87 L159.77 205.22 L159.91 204.57 L160.06 203.92 L160.21 203.27 L160.37 202.62 L160.52 201.98 L160.67 201.33 L160.83 200.68 L160.99 200.03 L161.00 200.00 L161.15 199.39 L161.31 198.74 L161.47 198.09 L161.63 197.45 L161.79 196.80 L161.96 196.15 L162.12 195.50 L162.28 194.86 L162.45 194.21 L162.61 193.56 L162.78 192.92 L162.94 192.27 L163.11 191.63 L163.28 190.98 L163.46 190.34 L163.63 189.70 L163.81 189.05 L163.99 188.41 L164.17 187.77 L164.36 187.13 L164.55 186.49 L164.74 185.86 L164.93 185.22 L165.00 185.00 L165.13 184.58 L165.32 183.94 L165.51 183.29 L165.71 182.63 L165.90 181.98 L166.11 181.33 L166.32 180.69 L166.55 180.06 L166.80 179.45 L167.06 178.85 L167.35 178.28 L167.50 178.00 L167.67 177.71 L168.06 177.06 L168.52 176.41 L169.00 175.87 L169.47 175.55 L169.70 175.50 L169.93 175.54 L170.41 175.85 L170.90 176.38 L171.37 177.01 L171.79 177.65 L172.00 178.00 L172.13 178.22 L172.44 178.78 L172.73 179.37 L173.00 179.97 L173.25 180.59 L173.49 181.22 L173.72 181.86 L173.94 182.50 L174.16 183.15 L174.37 183.79 L174.59 184.43 L174.80 185.00 L174.82 185.06 L175.05 185.68 L175.27 186.31 L175.48 186.94 L175.70 187.57 L175.91 188.20 L176.12 188.84 L176.32 189.47 L176.53 190.11 L176.74 190.74 L176.95 191.37 L177.16 192.00 L177.37 192.64 L177.50 193.00 L177.59 193.26 L177.81 193.89 L178.03 194.52 L178.26 195.15 L178.48 195.78 L178.71 196.41 L178.93 197.03 L179.16 197.66 L179.38 198.29 L179.61 198.91 L179.83 199.54 L180.00 200.00 L180.06 200.17 L180.28 200.80 L180.49 201.44 L180.70 202.08 L180.90 202.72 L181.11 203.37 L181.31 204.02 L181.50 204.66 L181.71 205.31 L181.91 205.96 L182.12 206.60 L182.33 207.24 L182.54 207.87 L182.77 208.50 L183.00 209.12 L183.25 209.74 L183.50 210.34 L183.77 210.93 L184.05 211.52 L184.34 212.09 L184.40 212.20 L184.66 212.65 L185.02 213.20 L185.42 213.75 L185.84 214.28 L186.28 214.80 L186.73 215.30 L187.19 215.78 L187.30 215.90 L187.64 216.26 L188.11 216.75 L188.59 217.25 L189.09 217.74 L189.59 218.22 L190.11 218.67 L190.64 219.09 L191.18 219.47 L191.74 219.80 L192.31 220.06 L192.40 220.10 L192.90 220.29 L193.53 220.50 L194.19 220.70 L194.86 220.88 L195.53 221.01 L196.19 221.09 L196.60 221.10 L196.83 221.09 L197.47 221.01 L198.11 220.84 L198.76 220.61 L199.40 220.32 L200.02 219.99 L200.62 219.63 L201.20 219.27 L201.74 218.91 L201.90 218.80 L202.25 218.55 L202.73 218.14 L203.19 217.68 L203.64 217.19 L204.07 216.67 L204.50 216.13 L204.91 215.57 L205.32 215.02 L205.72 214.46 L206.13 213.92 L206.30 213.70 L206.54 213.39 L206.96 212.87 L207.38 212.34 L207.80 211.81 L208.21 211.28 L208.62 210.74 L209.00 210.19 L209.36 209.64 L209.70 209.07 L210.00 208.50 L210.00 208.50 L210.28 207.91 L210.54 207.31 L210.78 206.70 L211.01 206.08 L211.23 205.45 L211.44 204.81 L211.64 204.17 L211.84 203.53 L212.04 202.88 L212.25 202.24 L212.45 201.60 L212.66 200.96 L212.88 200.33 L213.00 200.00 L213.11 199.70 L213.35 199.08 L213.59 198.46 L213.83 197.83 L214.08 197.22 L214.33 196.60 L214.57 195.98 L214.82 195.36 L215.07 194.74 L215.31 194.12 L215.56 193.50 L215.79 192.88 L216.03 192.25 L216.25 191.63 L216.30 191.50 L216.48 191.00 L216.70 190.37 L216.91 189.74 L217.13 189.11 L217.34 188.48 L217.55 187.84 L217.75 187.21 L217.96 186.58 L218.16 185.94 L218.37 185.31 L218.57 184.67 L218.77 184.03 L218.97 183.40 L219.00 183.30 L219.17 182.76 L219.36 182.13 L219.56 181.49 L219.75 180.85 L219.94 180.21 L220.13 179.57 L220.32 178.93 L220.51 178.29 L220.69 177.65 L220.88 177.01 L221.07 176.37 L221.26 175.74 L221.45 175.10 L221.64 174.46 L221.83 173.82 L222.03 173.18 L222.23 172.55 L222.40 172.00 L222.43 171.91 L222.63 171.28 L222.83 170.64 L223.04 170.01 L223.24 169.37 L223.44 168.74 L223.65 168.10 L223.86 167.47 L224.06 166.83 L224.27 166.20 L224.48 165.57 L224.69 164.93 L224.91 164.30 L225.12 163.67 L225.34 163.04 L225.56 162.41 L225.78 161.78 L226.01 161.15 L226.24 160.53 L226.47 159.91 L226.70 159.28 L226.94 158.66 L227.18 158.04 L227.20 158.00 L227.42 157.42 L227.66 156.79 L227.90 156.15 L228.14 155.50 L228.38 154.85 L228.62 154.20 L228.87 153.55 L229.12 152.90 L229.38 152.26 L229.64 151.63 L229.92 151.01 L230.21 150.41 L230.51 149.82 L230.82 149.25 L231.15 148.71 L231.49 148.18 L231.85 147.69 L232.00 147.50 L232.24 147.21 L232.69 146.68 L233.20 146.15 L233.75 145.62 L234.32 145.14 L234.90 144.73 L235.48 144.42 L236.05 144.24 L236.40 144.20 L236.59 144.21 L237.14 144.33 L237.71 144.58 L238.29 144.94 L238.86 145.37 L239.43 145.87 L239.97 146.39 L240.48 146.94 L240.95 147.47 L241.37 147.97 L241.40 148.00 L241.76 148.45 L242.13 148.95 L242.49 149.47 L242.85 150.01 L243.19 150.57 L243.52 151.15 L243.84 151.74 L244.15 152.34 L244.46 152.95 L244.75 153.57 L245.03 154.20 L245.31 154.84 L245.57 155.48 L245.83 156.12 L246.08 156.76 L246.32 157.41 L246.55 158.05 L246.77 158.69 L246.98 159.33 L247.19 159.95 L247.20 160.00 L247.38 160.58 L247.56 161.22 L247.73 161.85 L247.89 162.50 L248.05 163.14 L248.20 163.80 L248.34 164.45 L248.48 165.10 L248.62 165.76 L248.76 166.42 L248.90 167.07 L249.05 167.73 L249.20 168.38 L249.35 169.03 L249.51 169.68 L249.60 170.00 L249.69 170.32 L249.86 170.96 L250.04 171.60 L250.23 172.24 L250.42 172.88 L250.61 173.52 L250.80 174.16 L250.99 174.80 L251.19 175.43 L251.39 176.07 L251.59 176.70 L251.80 177.34 L252.00 177.97 L252.21 178.61 L252.42 179.24 L252.50 179.50 L252.62 179.87 L252.84 180.51 L253.05 181.14 L253.27 181.76 L253.50 182.39 L253.72 183.02 L253.95 183.65 L254.17 184.27 L254.40 184.90 L254.63 185.53 L254.85 186.15 L255.08 186.78 L255.30 187.41 L255.50 188.00 L255.51 188.04 L255.73 188.67 L255.94 189.30 L256.16 189.93 L256.37 190.57 L256.58 191.20 L256.79 191.83 L257.00 192.46 L257.21 193.10 L257.41 193.73 L257.62 194.36 L257.83 195.00 L258.04 195.63 L258.25 196.26 L258.46 196.89 L258.67 197.53 L258.88 198.16 L259.00 198.50 L259.10 198.79 L259.31 199.42 L259.51 200.06 L259.71 200.70 L259.91 201.34 L260.11 201.98 L260.31 202.62 L260.51 203.26 L260.71 203.90 L260.92 204.54 L261.13 205.17 L261.35 205.80 L261.57 206.43 L261.80 207.05 L262.04 207.67 L262.29 208.28 L262.55 208.88 L262.60 209.00 L262.82 209.48 L263.11 210.07 L263.42 210.65 L263.75 211.23 L264.08 211.81 L264.43 212.38 L264.79 212.95 L265.15 213.52 L265.52 214.08 L265.89 214.64 L266.26 215.20 L266.64 215.75 L267.00 216.30 L267.00 216.31 L267.37 216.86 L267.74 217.42 L268.11 217.98 L268.48 218.54 L268.85 219.10 L269.22 219.66 L269.60 220.22 L269.98 220.78 L270.36 221.33 L270.74 221.89 L271.13 222.44 L271.53 222.98 L271.92 223.52 L272.33 224.06 L272.73 224.59 L273.15 225.11 L273.57 225.62 L273.99 226.13 L274.42 226.63 L274.86 227.11 L275.30 227.59 L275.60 227.90 L275.76 228.06 L276.22 228.53 L276.69 229.00 L277.17 229.46 L277.66 229.93 L278.16 230.39 L278.67 230.84 L279.18 231.29 L279.70 231.73 L280.23 232.16 L280.77 232.57 L281.31 232.97 L281.86 233.36 L282.41 233.72 L282.97 234.07 L283.54 234.40 L284.10 234.70 L284.11 234.70 L284.68 234.99 L285.27 235.28 L285.87 235.56 L286.48 235.84 L287.10 236.10 L287.73 236.36 L288.37 236.60 L289.00 236.83 L289.65 237.05 L290.29 237.25 L290.94 237.43 L291.59 237.59 L292.23 237.73 L292.60 237.80 L292.88 237.85 L293.53 237.96 L294.18 238.05 L294.84 238.14 L295.50 238.22 L296.16 238.30 L296.83 238.37 L297.49 238.44 L298.16 238.51 L298.83 238.57 L299.50 238.64 L300.16 238.70 L300.83 238.77 L301.10 238.80 L301.49 238.84 L302.15 238.92 L302.82 238.99 L303.48 239.07 L304.14 239.15 L304.80 239.24 L305.47 239.32 L306.13 239.40 L306.79 239.49 L307.46 239.57 L308.12 239.65 L308.78 239.72 L309.45 239.80 L310.11 239.87 L310.77 239.93 L311.44 239.99 L312.10 240.04 L312.77 240.09 L313.43 240.13 L314.09 240.16 L314.76 240.18 L315.42 240.20 L316.00 240.20 L316.09 240.20 L316.75 240.20 L317.42 240.20 L318.08 240.19 L318.75 240.19 L319.42 240.18 L320.08 240.18 L320.75 240.17 L321.42 240.16 L322.08 240.15 L322.75 240.14 L323.42 240.13 L324.09 240.12 L324.75 240.11 L325.42 240.09 L326.09 240.08 L326.75 240.06 L327.42 240.05 L328.09 240.03 L328.75 240.02 L329.42 240.00 L330.09 239.98 L330.75 239.96 L331.42 239.94 L332.08 239.92 L332.75 239.90 L332.80 239.90 L333.41 239.88 L334.07 239.85 L334.74 239.81 L335.40 239.76 L336.07 239.71 L336.73 239.66 L337.39 239.60 L338.05 239.53 L338.72 239.46 L339.38 239.39 L340.04 239.31 L340.70 239.23 L341.37 239.14 L342.03 239.06 L342.69 238.97 L343.35 238.88 L344.01 238.79 L344.68 238.70 L345.34 238.61 L346.00 238.52 L346.66 238.43 L347.32 238.34 L347.98 238.25 L348.65 238.17 L349.31 238.08 L349.97 238.00 L350.00 238.00 L350.63 237.93 L351.29 237.85 L351.96 237.78 L352.62 237.70 L353.29 237.63 L353.95 237.56 L354.62 237.48 L355.28 237.41 L355.94 237.34 L356.61 237.27 L357.27 237.19 L357.94 237.11 L358.60 237.04 L359.26 236.96 L359.93 236.87 L360.59 236.79 L361.25 236.70 L361.91 236.61 L362.56 236.51 L363.22 236.42 L363.88 236.31 L364.53 236.21 L365.18 236.09 L365.70 236.00 L365.83 235.98 L366.48 235.85 L367.13 235.71 L367.78 235.55 L368.42 235.39 L369.06 235.21 L369.71 235.03 L370.35 234.84 L370.99 234.65 L371.63 234.44 L372.26 234.24 L372.90 234.03 L373.54 233.82 L374.17 233.61 L374.80 233.40 L375.40 233.20 L375.43 233.19 L376.06 232.98 L376.69 232.76 L377.32 232.54 L377.95 232.32 L378.58 232.10 L379.20 231.87 L379.82 231.63 L380.45 231.39 L381.07 231.15 L381.69 230.91 L382.31 230.66 L382.93 230.41 L383.54 230.15 L384.16 229.90 L384.77 229.63 L385.39 229.37 L386.00 229.10"/>
<path stroke="#ff38ff" stroke-opacity="0.85" d="M75.35 152.50 L75.35 153.17 L75.35 153.83 L75.35 154.50 L75.35 155.17 L75.35 155.83 L75.35 156.50 L75.35 157.17 L75.35 157.83 L75.35 158.50 L75.35 159.17 L75.35 159.83 L75.35 160.50 L75.35 161.17 L75.35 161.83 L75.35 162.50 L75.35 163.17 L75.35 163.83 L75.35 164.50 L75.35 165.17 L75.35 165.83 L75.36 166.50 L75.36 167.17 L75.36 167.83 L75.36 168.50 L75.36 169.17 L75.36 169.83 L75.36 170.50 L75.36 171.17 L75.36 171.83 L75.36 172.50 L75.36 173.17 L75.36 173.83 L75.36 174.50 L75.36 175.17 L75.36 175.83 L75.36 176.50 L75.37 177.17 L75.37 177.83 L75.37 178.50 L75.37 179.17 L75.37 179.83 L75.37 180.50 L75.37 181.17 L75.37 181.83 L75.37 182.50 L75.37 183.17 L75.37 183.83 L75.38 184.50 L75.38 185.17 L75.38 185.83 L75.38 186.50 L75.38 187.17 L75.38 187.83 L75.38 188.50 L75.38 189.17 L75.38 189.83 L75.38 190.50 L75.39 191.17 L75.39 191.83 L75.39 192.50 L75.39 193.17 L75.39 193.83 L75.39 194.50 L75.39 195.17 L75.39 195.83 L75.39 196.50 L75.40 197.16 L75.40 197.83 L75.40 198.50 L75.40 199.16 L75.40 199.83 L75.40 200.00 L75.40 200.50 L75.40 201.17 L75.40 201.84 L75.40 202.52 L75.40 203.20 L75.41 203.88 L75.41 204.56 L75.41 205.25 L75.41 205.94 L75.41 206.63 L75.41 207.32 L75.41 208.01 L75.41 208.71 L75.41 209.40 L75.41 210.10 L75.41 210.80 L75.42 211.50 L75.42 212.20 L75.42 212.90 L75.42 213.60 L75.42 214.30 L75.42 215.00 L75.42 215.70 L75.42 216.40 L75.42 217.10 L75.43 217.80 L75.43 218.50 L75.43 219.20 L75.43 219.90 L75.43 220.59 L75.43 221.29 L75.44 221.98 L75.44 222.68 L75.44 223.37 L75.44 224.06 L75.45 224.75 L75.45 225.43 L75.45 226.11 L75.45 226.79 L75.46 227.47 L75.46 228.15 L75.46 228.82 L75.47 229.49 L75.47 230.16 L75.48 230.82 L75.48 231.48 L75.48 232.14 L75.49 232.79 L75.49 233.44 L75.50 234.08 L75.50 234.72 L75.51 235.36 L75.51 235.99 L75.52 236.62 L75.53 237.24 L75.53 237.86 L75.54 238.47 L75.54 239.08 L75.55 239.68 L75.56 240.27 L75.57 240.86 L75.57 241.45 L75.58 242.03 L75.59 242.60 L75.60 243.17 L75.60 243.20 L75.84 243.82 L76.36 244.37 L76.60 244.45 L76.86 244.45 L77.37 244.45 L77.89 244.45 L78.43 244.45 L78.99 244.45 L79.56 244.45 L80.16 244.45 L80.76 244.45 L81.38 244.45 L82.02 244.45 L82.67 244.45 L83.33 244.45 L84.00 244.45 L84.68 244.45 L85.37 244.45 L86.06 244.45 L86.77 244.45 L87.48 244.45 L88.19 244.45 L88.91 244.45 L89.64 244.45 L90.36 244.45 L91.09 244.45 L91.82 244.45 L92.55 244.45 L93.28 244.45 L94.00 244.45 L94.72 244.45 L95.44 244.45 L96.16 244.45 L96.87 244.45 L97.57 244.45 L98.26 244.45 L98.95 244.45 L99.63 244.45 L100.00 244.45 L100.29 244.45 L100.96 244.45 L101.64 244.45 L102.31 244.45 L102.98 244.45 L103.66 244.45 L104.34 244.45 L105.02 244.45 L105.70 244.45 L106.38 244.45 L107.06 244.45 L107.75 244.45 L108.43 244.45 L109.11 244.45 L109.79 244.45 L110.47 244.45 L111.15 244.45 L111.83 244.45 L112.51 244.45 L113.19 244.45 L113.86 244.45 L114.53 244.45 L115.20 244.45 L115.87 244.45 L116.53 244.45 L117.19 244.45 L117.85 244.45 L118.50 244.45 L119.15 244.45 L119.80 244.45 L120.44 244.45 L121.08 244.45 L121.71 244.45 L122.34 244.45 L122.96 244.45 L123.00 244.45 L123.57 244.28 L124.16 243.91 L124.50 243.70 L124.77 243.57 L125.44 243.26 L125.90 242.90 L125.90 242.90 L126.11 242.39 L126.28 241.76 L126.40 241.06 L126.50 240.33 L126.60 239.64 L126.60 239.60 L126.68 238.98 L126.76 238.32 L126.83 237.65 L126.89 236.99 L126.95 236.32 L127.01 235.66 L127.06 234.99 L127.10 234.50 L127.11 234.33 L127.17 233.66 L127.22 233.00 L127.27 232.33 L127.32 231.67 L127.36 231.00 L127.40 230.34 L127.44 229.67 L127.48 229.01 L127.50 228.60 L127.51 228.34 L127.54 227.68 L127.57 227.01 L127.60 226.34 L127.62 225.68 L127.65 225.01 L127.67 224.35 L127.69 223.68 L127.72 223.01 L127.74 222.35 L127.75 221.68 L127.77 221.01 L127.79 220.35 L127.80 220.00 L127.81 219.68 L127.83 219.01 L127.84 218.35 L127.86 217.68 L127.87 217.01 L127.89 216.35 L127.90 215.68 L127.92 215.02 L127.93 214.35 L127.94 213.68 L127.96 213.02 L127.97 212.35 L127.98 211.68 L127.99 211.02 L128.00 210.35 L128.00 210.00 L128.00 209.68 L128.01 209.02 L128.02 208.35 L128.02 207.68 L128.03 207.02 L128.03 206.35 L128.04 205.68 L128.04 205.02 L128.04 204.35 L128.05 203.68 L128.05 203.02 L128.06 202.35 L128.06 201.68 L128.06 201.02 L128.07 200.35 L128.07 199.68 L128.08 199.02 L128.08 198.35 L128.09 197.68 L128.09 197.02 L128.10 196.35 L128.10 196.00 L128.10 195.68 L128.11 195.02 L128.12 194.35 L128.13 193.68 L128.13 193.02 L128.14 192.35 L128.15 191.68 L128.16 191.02 L128.17 190.35 L128.18 189.68 L128.19 189.02 L128.20 188.35 L128.21 187.68 L128.22 187.02 L128.24 186.35 L128.25 185.69 L128.26 185.02 L128.27 184.35 L128.28 183.69 L128.30 183.02 L128.31 182.35 L128.32 181.69 L128.34 181.02 L128.35 180.35 L128.36 179.69 L128.38 179.02 L128.39 178.35 L128.40 177.69 L128.42 177.02 L128.43 176.35 L128.44 175.69 L128.46 175.02 L128.47 174.35 L128.49 173.69 L128.50 173.02 L128.51 172.35 L128.53 171.69 L128.54 171.02 L128.55 170.36 L128.57 169.69 L128.58 169.02 L128.59 168.36 L128.60 168.00 L128.61 167.69 L128.62 167.02 L128.63 166.36 L128.64 165.69 L128.66 165.02 L128.67 164.36 L128.68 163.69 L128.69 163.02 L128.71 162.36 L128.72 161.69 L128.73 161.02 L128.74 160.36 L128.76 159.69 L128.77 159.02 L128.78 158.36 L128.79 157.69 L128.81 157.02 L128.82 156.36 L128.83 155.69 L128.85 155.02 L128.86 154.36 L128.87 153.69 L128.89 153.03 L128.90 152.36 L128.92 151.69 L128.93 151.03 L128.94 150.36 L128.96 149.69 L128.97 149.03 L128.99 148.36 L129.01 147.69 L129.02 147.03 L129.04 146.36 L129.06 145.69 L129.07 145.03 L129.09 144.36 L129.10 144.00 L129.11 143.70 L129.13 143.03 L129.15 142.36 L129.17 141.70 L129.19 141.03 L129.21 140.36 L129.23 139.70 L129.26 139.03 L129.28 138.37 L129.31 137.70 L129.33 137.03 L129.36 136.37 L129.38 135.70 L129.41 135.03 L129.44 134.37 L129.46 133.70 L129.49 133.04 L129.52 132.37 L129.55 131.70 L129.58 131.04 L129.60 130.37 L129.63 129.71 L129.66 129.04 L129.69 128.37 L129.72 127.71 L129.75 127.04 L129.77 126.38 L129.80 125.71 L129.83 125.04 L129.86 124.38 L129.89 123.71 L129.91 123.05 L129.94 122.38 L129.96 121.71 L129.99 121.05 L130.02 120.38 L130.04 119.71 L130.06 119.05 L130.09 118.38 L130.10 118.00 L130.11 117.72 L130.13 117.05 L130.15 116.38 L130.17 115.72 L130.19 115.05 L130.21 114.38 L130.23 113.72 L130.25 113.05 L130.26 112.38 L130.28 111.72 L130.30 111.05 L130.32 110.39 L130.34 109.72 L130.36 109.05 L130.38 108.39 L130.40 107.72 L130.42 107.05 L130.45 106.39 L130.47 105.72 L130.50 105.06 L130.50 105.00 L130.53 104.39 L130.55 103.72 L130.58 103.06 L130.62 102.39 L130.65 101.72 L130.69 101.06 L130.73 100.39 L130.77 99.73 L130.82 99.06 L130.87 98.40 L130.90 98.00 L130.92 97.72 L131.00 96.91 L131.10 96.03 L131.20 95.21 L131.31 94.57 L131.41 94.23 L131.45 94.20 L131.51 94.29 L131.62 94.73 L131.73 95.43 L131.83 96.27 L131.92 97.14 L131.99 97.92 L132.00 98.00 L132.05 98.58 L132.10 99.25 L132.15 99.91 L132.19 100.58 L132.23 101.24 L132.27 101.91 L132.30 102.58 L132.33 103.24 L132.36 103.91 L132.38 104.58 L132.40 105.00 L132.41 105.24 L132.43 105.91 L132.45 106.57 L132.47 107.24 L132.49 107.91 L132.50 108.57 L132.52 109.24 L132.53 109.91 L132.55 110.57 L132.56 111.24 L132.57 111.91 L132.58 112.57 L132.60 113.24 L132.61 113.91 L132.62 114.57 L132.64 115.24 L132.65 115.90 L132.67 116.57 L132.68 117.24 L132.70 117.90 L132.70 118.00 L132.71 118.57 L132.73 119.24 L132.75 119.90 L132.77 120.57 L132.79 121.24 L132.80 121.90 L132.82 122.57 L132.84 123.24 L132.86 123.90 L132.88 124.57 L132.89 125.23 L132.91 125.90 L132.93 126.57 L132.95 127.23 L132.97 127.90 L132.99 128.57 L133.01 129.23 L133.03 129.90 L133.05 130.57 L133.07 131.23 L133.09 131.90 L133.11 132.57 L133.13 133.23 L133.15 133.90 L133.17 134.56 L133.19 135.23 L133.21 135.90 L133.24 136.56 L133.26 137.23 L133.28 137.90 L133.30 138.56 L133.33 139.23 L133.35 139.89 L133.37 140.56 L133.40 141.23 L133.42 141.89 L133.45 142.56 L133.47 143.23 L133.50 143.89 L133.50 144.00 L133.52 144.56 L133.55 145.22 L133.58 145.89 L133.60 146.56 L133.63 147.22 L133.66 147.89 L133.69 148.55 L133.72 149.22 L133.75 149.88 L133.79 150.55 L133.82 151.22 L133.85 151.88 L133.89 152.55 L133.92 153.21 L133.95 153.88 L133.99 154.55 L134.02 155.21 L134.06 155.88 L134.09 156.54 L134.13 157.21 L134.16 157.87 L134.20 158.54 L134.24 159.21 L134.27 159.87 L134.31 160.54 L134.34 161.20 L134.38 161.87 L134.42 162.53 L134.45 163.20 L134.49 163.87 L134.52 164.53 L134.56 165.20 L134.59 165.86 L134.63 166.53 L134.66 167.19 L134.69 167.86 L134.73 168.53 L134.76 169.19 L134.79 169.86 L134.80 170.00 L134.82 170.52 L134.86 171.19 L134.89 171.86 L134.92 172.52 L134.95 173.19 L134.98 173.85 L135.01 174.52 L135.04 175.19 L135.07 175.85 L135.09 176.52 L135.12 177.18 L135.15 177.85 L135.18 178.52 L135.21 179.18 L135.24 179.85 L135.26 180.51 L135.29 181.18 L135.32 181.85 L135.35 182.51 L135.38 183.18 L135.41 183.84 L135.43 184.51 L135.46 185.18 L135.49 185.84 L135.52 186.51 L135.55 187.18 L135.58 187.84 L135.61 188.51 L135.65 189.17 L135.68 189.84 L135.71 190.50 L135.74 191.17 L135.78 191.84 L135.81 192.50 L135.84 193.17 L135.88 193.83 L135.92 194.50 L135.95 195.16 L135.99 195.83 L136.00 196.00 L136.03 196.49 L136.07 197.16 L136.11 197.83 L136.15 198.49 L136.19 199.16 L136.23 199.82 L136.27 200.49 L136.31 201.15 L136.35 201.82 L136.40 202.49 L136.44 203.15 L136.48 203.82 L136.53 204.48 L136.58 205.15 L136.62 205.81 L136.67 206.48 L136.72 207.14 L136.77 207.81 L136.82 208.47 L136.88 209.14 L136.93 209.80 L136.99 210.47 L137.04 211.13 L137.10 211.79 L137.16 212.46 L137.22 213.12 L137.28 213.78 L137.35 214.45 L137.40 215.00 L137.41 215.11 L137.48 215.77 L137.55 216.44 L137.62 217.10 L137.69 217.77 L137.76 218.43 L137.84 219.10 L137.92 219.76 L138.00 220.43 L138.09 221.09 L138.18 221.75 L138.27 222.42 L138.37 223.08 L138.47 223.74 L138.58 224.39 L138.68 225.05 L138.80 225.71 L138.92 226.36 L139.04 227.01 L139.17 227.65 L139.20 227.80 L139.31 228.30 L139.46 228.95 L139.63 229.59 L139.81 230.24 L140.01 230.88 L140.21 231.52 L140.43 232.16 L140.66 232.79 L140.90 233.42 L141.15 234.04 L141.40 234.65 L141.60 235.10 L141.67 235.25 L141.94 235.86 L142.24 236.49 L142.55 237.10 L142.89 237.70 L143.26 238.27 L143.65 238.80 L144.06 239.26 L144.10 239.30 L144.54 239.72 L145.10 240.19 L145.70 240.57 L146.30 240.78 L146.50 240.80 L146.91 240.77 L147.55 240.62 L148.22 240.37 L148.87 240.06 L149.48 239.71 L150.01 239.36 L150.10 239.30 L150.48 239.00 L150.93 238.56 L151.35 238.07 L151.75 237.53 L152.13 236.95 L152.50 236.34 L152.84 235.72 L153.17 235.09 L153.47 234.47 L153.77 233.87 L153.80 233.80 L154.04 233.28 L154.31 232.68 L154.56 232.07 L154.80 231.45 L155.03 230.83 L155.26 230.20 L155.48 229.56 L155.69 228.92 L155.89 228.28 L156.09 227.64 L156.29 226.99 L156.48 226.35 L156.68 225.71 L156.80 225.30 L156.87 225.07 L157.06 224.44 L157.25 223.80 L157.44 223.16 L157.62 222.52 L157.80 221.87 L157.98 221.23 L158.16 220.59 L158.33 219.94 L158.50 219.29 L158.66 218.65 L158.82 218.00 L158.98 217.35 L159.13 216.70 L159.28 216.05 L159.42 215.40 L159.50 215.00 L159.55 214.75 L159.68 214.10 L159.81 213.45 L159.93 212.79 L160.05 212.14 L160.17 211.48 L160.28 210.83 L160.39 210.17 L160.50 209.51 L160.61 208.85 L160.72 208.19 L160.82 207.53 L160.92 206.87 L161.02 206.22 L161.13 205.56 L161.23 204.90 L161.33 204.24 L161.43 203.58 L161.53 202.92 L161.64 202.26 L161.74 201.60 L161.85 200.94 L161.95 200.28 L162.00 200.00 L162.06 199.62 L162.17 198.97 L162.28 198.31 L162.39 197.65 L162.49 196.99 L162.60 196.33 L162.70 195.67 L162.81 195.02 L162.92 194.36 L163.02 193.70 L163.13 193.04 L163.23 192.38 L163.34 191.73 L163.45 191.07 L163.56 190.41 L163.67 189.75 L163.78 189.09 L163.89 188.44 L164.00 187.78 L164.12 187.12 L164.23 186.47 L164.35 185.81 L164.47 185.16 L164.50 185.00 L164.59 184.50 L164.71 183.85 L164.83 183.19 L164.95 182.53 L165.07 181.87 L165.20 181.22 L165.32 180.56 L165.44 179.90 L165.56 179.24 L165.69 178.59 L165.82 177.93 L165.94 177.27 L166.08 176.62 L166.21 175.96 L166.35 175.31 L166.49 174.66 L166.63 174.01 L166.78 173.36 L166.93 172.71 L167.08 172.06 L167.24 171.42 L167.40 170.77 L167.57 170.13 L167.75 169.49 L167.80 169.30 L167.92 168.85 L168.10 168.18 L168.28 167.50 L168.47 166.82 L168.68 166.15 L168.91 165.51 L169.16 164.90 L169.45 164.34 L169.77 163.84 L169.80 163.80 L170.23 163.34 L170.83 162.91 L171.20 162.80 L171.38 162.83 L171.91 163.18 L172.42 163.75 L172.80 164.30 L172.81 164.32 L173.13 164.86 L173.41 165.43 L173.67 166.02 L173.91 166.64 L174.13 167.28 L174.34 167.94 L174.53 168.60 L174.72 169.27 L174.91 169.93 L175.09 170.59 L175.28 171.23 L175.30 171.30 L175.47 171.87 L175.66 172.51 L175.84 173.15 L176.02 173.79 L176.19 174.43 L176.37 175.08 L176.54 175.72 L176.70 176.37 L176.87 177.01 L177.03 177.66 L177.19 178.31 L177.35 178.96 L177.50 179.61 L177.66 180.26 L177.81 180.91 L177.96 181.56 L178.11 182.21 L178.26 182.86 L178.40 183.51 L178.55 184.16 L178.69 184.81 L178.80 185.30 L178.84 185.46 L178.98 186.11 L179.11 186.77 L179.24 187.42 L179.37 188.08 L179.49 188.73 L179.61 189.39 L179.73 190.05 L179.85 190.70 L179.97 191.36 L180.09 192.02 L180.20 192.68 L180.32 193.34 L180.44 193.99 L180.56 194.65 L180.69 195.30 L180.81 195.96 L180.94 196.61 L181.08 197.26 L181.21 197.91 L181.36 198.56 L181.51 199.21 L181.66 199.85 L181.70 200.00 L181.83 200.50 L181.99 201.14 L182.16 201.79 L182.34 202.43 L182.52 203.07 L182.71 203.72 L182.90 204.36 L183.10 205.00 L183.30 205.64 L183.50 206.28 L183.71 206.92 L183.93 207.55 L184.15 208.19 L184.38 208.82 L184.61 209.44 L184.85 210.07 L185.09 210.68 L185.33 211.30 L185.59 211.91 L185.84 212.52 L185.90 212.65 L186.10 213.12 L186.37 213.75 L186.65 214.38 L186.94 215.02 L187.23 215.66 L187.53 216.30 L187.85 216.94 L188.17 217.56 L188.51 218.16 L188.86 218.74 L189.22 219.30 L189.60 219.82 L189.99 220.31 L190.40 220.77 L190.80 221.15 L190.83 221.17 L191.29 221.57 L191.79 221.97 L192.34 222.38 L192.92 222.78 L193.52 223.16 L194.15 223.52 L194.79 223.85 L195.44 224.15 L196.10 224.39 L196.75 224.58 L197.39 224.70 L198.01 224.75 L198.10 224.75 L198.63 224.72 L199.27 224.62 L199.92 224.45 L200.58 224.23 L201.24 223.97 L201.89 223.67 L202.52 223.35 L203.12 223.01 L203.68 222.67 L204.20 222.35 L204.21 222.34 L204.70 222.00 L205.19 221.61 L205.65 221.18 L206.11 220.72 L206.56 220.23 L206.99 219.71 L207.41 219.17 L207.82 218.62 L208.22 218.04 L208.61 217.46 L208.99 216.86 L209.37 216.27 L209.73 215.67 L210.08 215.08 L210.42 214.49 L210.76 213.92 L210.80 213.85 L211.08 213.35 L211.40 212.77 L211.71 212.19 L212.00 211.59 L212.29 210.99 L212.57 210.38 L212.84 209.77 L213.11 209.15 L213.38 208.53 L213.64 207.92 L213.90 207.30 L214.16 206.68 L214.40 206.10 L214.41 206.07 L214.67 205.45 L214.93 204.84 L215.18 204.22 L215.43 203.60 L215.68 202.98 L215.93 202.36 L216.17 201.74 L216.40 201.11 L216.64 200.49 L216.86 199.86 L217.09 199.23 L217.30 198.60 L217.50 198.00 L217.51 197.97 L217.71 197.34 L217.91 196.70 L218.10 196.07 L218.29 195.43 L218.48 194.79 L218.66 194.15 L218.84 193.51 L219.02 192.86 L219.19 192.22 L219.36 191.58 L219.53 190.93 L219.70 190.28 L219.87 189.64 L220.04 188.99 L220.20 188.35 L220.37 187.70 L220.54 187.05 L220.71 186.41 L220.88 185.76 L221.05 185.12 L221.23 184.47 L221.40 183.83 L221.55 183.30 L221.58 183.19 L221.76 182.55 L221.94 181.90 L222.13 181.26 L222.31 180.62 L222.49 179.98 L222.68 179.34 L222.86 178.70 L223.04 178.06 L223.23 177.42 L223.41 176.78 L223.60 176.14 L223.78 175.50 L223.97 174.86 L224.15 174.22 L224.34 173.57 L224.52 172.93 L224.70 172.29 L224.88 171.65 L225.07 171.01 L225.25 170.37 L225.35 170.00 L225.43 169.73 L225.60 169.08 L225.78 168.44 L225.95 167.80 L226.13 167.15 L226.30 166.51 L226.47 165.86 L226.64 165.22 L226.81 164.57 L226.98 163.93 L227.15 163.28 L227.32 162.64 L227.49 161.99 L227.66 161.35 L227.83 160.70 L228.00 160.06 L228.17 159.41 L228.35 158.77 L228.53 158.13 L228.71 157.49 L228.89 156.85 L229.08 156.21 L229.27 155.57 L229.46 154.93 L229.66 154.30 L229.75 154.00 L229.86 153.66 L230.05 153.01 L230.24 152.36 L230.43 151.70 L230.62 151.03 L230.81 150.36 L231.00 149.70 L231.20 149.03 L231.40 148.37 L231.61 147.71 L231.82 147.06 L232.04 146.42 L232.28 145.79 L232.52 145.18 L232.78 144.58 L233.05 144.01 L233.34 143.45 L233.64 142.91 L233.90 142.50 L233.97 142.40 L234.34 141.86 L234.79 141.28 L235.28 140.70 L235.81 140.15 L236.36 139.65 L236.93 139.24 L237.49 138.95 L238.03 138.81 L238.20 138.80 L238.57 138.84 L239.15 139.01 L239.76 139.31 L240.38 139.71 L240.98 140.17 L241.55 140.68 L242.06 141.20 L242.49 141.71 L242.70 142.00 L242.83 142.19 L243.12 142.71 L243.39 143.26 L243.63 143.85 L243.86 144.47 L244.07 145.12 L244.26 145.78 L244.45 146.46 L244.64 147.14 L244.83 147.82 L245.02 148.49 L245.22 149.16 L245.43 149.80 L245.50 150.00 L245.66 150.43 L245.89 151.06 L246.13 151.68 L246.37 152.30 L246.61 152.92 L246.86 153.55 L247.11 154.17 L247.35 154.79 L247.60 155.41 L247.84 156.03 L248.07 156.66 L248.30 157.28 L248.53 157.91 L248.74 158.54 L248.95 159.17 L249.14 159.80 L249.20 160.00 L249.33 160.44 L249.50 161.08 L249.67 161.73 L249.83 162.37 L249.99 163.02 L250.14 163.67 L250.28 164.32 L250.42 164.97 L250.57 165.63 L250.71 166.28 L250.85 166.93 L250.99 167.59 L251.13 168.24 L251.28 168.89 L251.43 169.54 L251.58 170.19 L251.74 170.84 L251.91 171.48 L252.05 172.00 L252.08 172.12 L252.27 172.76 L252.46 173.40 L252.66 174.03 L252.87 174.67 L253.08 175.30 L253.29 175.93 L253.51 176.56 L253.72 177.20 L253.94 177.83 L254.15 178.46 L254.36 179.10 L254.56 179.73 L254.70 180.20 L254.75 180.37 L254.94 181.01 L255.12 181.65 L255.30 182.29 L255.48 182.93 L255.66 183.58 L255.84 184.22 L256.01 184.86 L256.19 185.50 L256.37 186.15 L256.55 186.79 L256.73 187.43 L256.90 188.00 L256.92 188.07 L257.11 188.71 L257.30 189.35 L257.50 189.98 L257.70 190.62 L257.90 191.26 L258.10 191.89 L258.30 192.53 L258.50 193.16 L258.70 193.80 L258.90 194.43 L259.11 195.07 L259.31 195.70 L259.51 196.34 L259.72 196.97 L259.92 197.61 L260.12 198.24 L260.20 198.50 L260.32 198.88 L260.51 199.52 L260.71 200.16 L260.90 200.80 L261.09 201.44 L261.28 202.08 L261.47 202.72 L261.66 203.36 L261.85 204.00 L262.04 204.64 L262.24 205.28 L262.44 205.91 L262.64 206.55 L262.85 207.18 L263.07 207.81 L263.29 208.43 L263.50 209.00 L263.52 209.05 L263.76 209.67 L264.00 210.30 L264.25 210.92 L264.51 211.53 L264.77 212.15 L265.05 212.76 L265.32 213.37 L265.61 213.98 L265.90 214.58 L266.20 215.18 L266.50 215.77 L266.81 216.35 L267.00 216.70 L267.13 216.93 L267.45 217.51 L267.78 218.08 L268.12 218.66 L268.47 219.23 L268.82 219.80 L269.18 220.37 L269.54 220.94 L269.92 221.51 L270.29 222.07 L270.68 222.63 L271.07 223.18 L271.46 223.73 L271.86 224.27 L272.27 224.80 L272.68 225.33 L273.10 225.86 L273.53 226.37 L273.95 226.88 L274.39 227.38 L274.82 227.87 L275.27 228.35 L275.60 228.70 L275.71 228.82 L276.17 229.29 L276.64 229.76 L277.12 230.23 L277.61 230.69 L278.10 231.15 L278.61 231.61 L279.12 232.06 L279.65 232.50 L280.18 232.92 L280.72 233.34 L281.26 233.74 L281.81 234.13 L282.36 234.49 L282.92 234.84 L283.49 235.17 L284.06 235.48 L284.10 235.50 L284.63 235.77 L285.22 236.06 L285.82 236.34 L286.43 236.61 L287.05 236.88 L287.68 237.14 L288.31 237.38 L288.95 237.62 L289.60 237.83 L290.24 238.03 L290.89 238.22 L291.54 238.38 L292.18 238.52 L292.60 238.60 L292.83 238.64 L293.48 238.75 L294.13 238.85 L294.79 238.94 L295.45 239.02 L296.11 239.10 L296.78 239.17 L297.44 239.24 L298.11 239.31 L298.78 239.37 L299.45 239.44 L300.11 239.50 L300.78 239.57 L301.10 239.60 L301.44 239.64 L302.10 239.71 L302.77 239.78 L303.43 239.85 L304.09 239.93 L304.76 240.01 L305.42 240.09 L306.09 240.16 L306.75 240.24 L307.41 240.32 L308.08 240.39 L308.74 240.46 L309.41 240.53 L310.07 240.59 L310.74 240.65 L311.40 240.70 L312.06 240.75 L312.73 240.80 L313.39 240.83 L314.06 240.86 L314.72 240.88 L315.39 240.90 L316.00 240.90 L316.05 240.90 L316.72 240.90 L317.38 240.89 L318.05 240.87 L318.71 240.86 L319.38 240.83 L320.04 240.81 L320.71 240.78 L321.37 240.74 L322.04 240.70 L322.71 240.66 L323.37 240.62 L324.04 240.57 L324.70 240.53 L325.37 240.48 L326.04 240.43 L326.70 240.37 L327.37 240.32 L328.03 240.27 L328.70 240.22 L329.36 240.16 L330.03 240.11 L330.69 240.06 L331.36 240.01 L332.02 239.96 L332.69 239.91 L332.80 239.90 L333.35 239.86 L334.02 239.81 L334.68 239.76 L335.35 239.71 L336.01 239.66 L336.68 239.61 L337.34 239.56 L338.01 239.51 L338.67 239.45 L339.34 239.40 L340.00 239.34 L340.67 239.28 L341.33 239.23 L341.99 239.17 L342.66 239.11 L343.32 239.05 L343.99 238.99 L344.65 238.93 L345.31 238.87 L345.98 238.80 L346.64 238.74 L347.30 238.67 L347.97 238.61 L348.63 238.54 L349.29 238.47 L349.96 238.40 L350.00 238.40 L350.62 238.34 L351.28 238.27 L351.95 238.20 L352.61 238.13 L353.28 238.06 L353.94 237.99 L354.61 237.92 L355.27 237.85 L355.94 237.77 L356.60 237.70 L357.27 237.62 L357.93 237.54 L358.59 237.46 L359.26 237.38 L359.92 237.29 L360.58 237.21 L361.24 237.12 L361.90 237.02 L362.56 236.92 L363.21 236.82 L363.87 236.72 L364.52 236.61 L365.18 236.49 L365.70 236.40 L365.83 236.38 L366.47 236.25 L367.12 236.11 L367.77 235.95 L368.41 235.79 L369.06 235.62 L369.70 235.43 L370.34 235.24 L370.98 235.05 L371.62 234.85 L372.26 234.64 L372.90 234.43 L373.53 234.22 L374.17 234.01 L374.80 233.80 L375.40 233.60 L375.43 233.59 L376.06 233.38 L376.69 233.16 L377.32 232.95 L377.95 232.72 L378.57 232.50 L379.20 232.27 L379.82 232.03 L380.45 231.80 L381.07 231.55 L381.69 231.31 L382.31 231.06 L382.93 230.81 L383.54 230.55 L384.16 230.30 L384.77 230.03 L385.39 229.77 L386.00 229.50"/>
</g>
<path stroke="#d2bf98" stroke-width="1" d="M77.5 243.5 H118"/>
<path stroke="#f080e0" stroke-width="1" d="M77 244.5 H122"/>
<g stroke-width="1">
<path stroke="#94202e" stroke-opacity="0.75" d="M333 28.3 H370"/>
<path stroke="#54982c" stroke-opacity="0.75" d="M333 46.45 H370"/>
<path stroke="#8e6e12" stroke-opacity="0.75" d="M333 64.45 H370"/>
<path stroke="#ff38ff" stroke-opacity="0.75" d="M333 82.5 H370"/>
</g>
<g fill="#000" stroke="#000" stroke-width="0.1" font-family="Liberation Sans, sans-serif" font-size="13.33px" text-anchor="end">
<text x="325.4" y="34.7">m(<tspan font-family="Liberation Serif, serif" font-size="15.5px">ω</tspan>)=0.01/a<tspan dy="-6.5" font-size="11.5px">2</tspan></text>
<text x="324" y="53">m(<tspan font-family="Liberation Serif, serif" font-size="15.5px">ω</tspan>)=a<tspan dy="-6.5" font-size="11.5px">-2</tspan><tspan dy="6.5">/(10+<tspan font-family="Liberation Serif, serif" font-size="15.5px">ω</tspan> a)</tspan></text>
<text x="325.4" y="71">m(<tspan font-family="Liberation Serif, serif" font-size="15.5px">ω</tspan>)=0.1<tspan font-family="Liberation Serif, serif" font-size="15.5px">ω</tspan><tspan dy="-7.2" font-size="11.5px">2</tspan></text>
<text x="324.7" y="87">m(<tspan font-family="Liberation Serif, serif" font-size="15.5px">ω</tspan>)=1.0<tspan font-family="Liberation Serif, serif" font-size="15.5px">ω</tspan>/a</text>
</g>
<g fill="#000" stroke="#000" stroke-width="0.1" font-family="Liberation Sans, sans-serif" font-size="13.5px">
<text transform="translate(223.1,282.8) scale(0.86,1)" font-family="Liberation Serif, serif" font-size="15.5px">ω</text><text x="231.4" y="282.8">a</text>
<text transform="translate(15.7,130) rotate(-90)" text-anchor="middle">A(<tspan font-family="Liberation Serif, serif" font-size="15.5px">ω</tspan>)/<tspan font-family="Liberation Serif, serif" font-size="15.5px">ω</tspan><tspan dy="-6.5" font-size="11.5px">2</tspan></text>
</g>
</svg>
</body></html>
